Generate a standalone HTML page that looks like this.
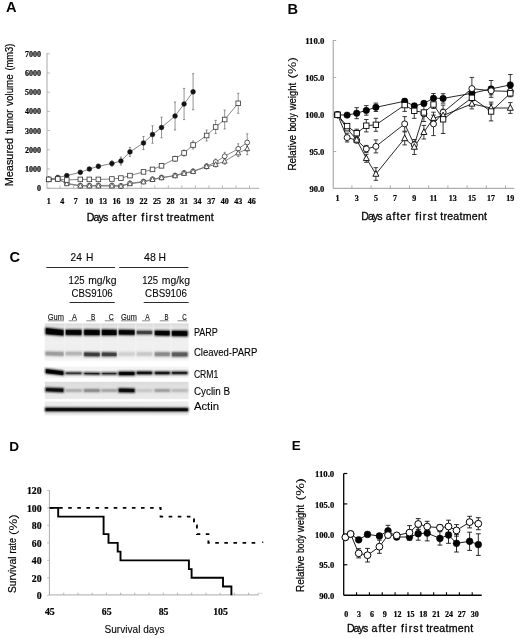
<!DOCTYPE html><html><head><meta charset="utf-8"><style>html,body{margin:0;padding:0;background:#fff;}svg{display:block;}</style></head><body>
<svg width="520" height="638" viewBox="0 0 520 638">
<defs><filter id="b1" x="-20%" y="-150%" width="140%" height="400%"><feGaussianBlur stdDeviation="0.8"/></filter><filter id="b2" x="-20%" y="-50%" width="140%" height="200%"><feGaussianBlur stdDeviation="1.1"/></filter><filter id="b3" x="-5%" y="-20%" width="110%" height="140%"><feGaussianBlur stdDeviation="0.5"/></filter></defs>
<rect width="520" height="638" fill="#fff"/>
<g opacity="0.995">
<text x="6.0" y="12" font-size="14.6" text-anchor="start" font-weight="bold" font-style="normal" font-family='"Liberation Sans", sans-serif' fill="#000">A</text>
<text x="287.6" y="14.1" font-size="14.6" text-anchor="start" font-weight="bold" font-style="normal" font-family='"Liberation Sans", sans-serif' fill="#000">B</text>
<text x="9.6" y="262" font-size="14.6" text-anchor="start" font-weight="bold" font-style="normal" font-family='"Liberation Sans", sans-serif' fill="#000">C</text>
<text x="9.2" y="451.3" font-size="13.6" text-anchor="start" font-weight="bold" font-style="normal" font-family='"Liberation Sans", sans-serif' fill="#000">D</text>
<text x="291.8" y="449.8" font-size="13.4" text-anchor="start" font-weight="bold" font-style="normal" font-family='"Liberation Sans", sans-serif' fill="#000">E</text>
<line x1="47.0" y1="53" x2="47.0" y2="188.3" stroke="#aaa" stroke-width="1"/>
<line x1="47.0" y1="188.3" x2="259.4" y2="188.3" stroke="#aaa" stroke-width="1"/>
<line x1="47.0" y1="188.2" x2="50.0" y2="188.2" stroke="#aaa" stroke-width="0.8"/>
<text x="41" y="191.1" font-size="8" text-anchor="end" font-weight="bold" font-style="normal" font-family='"Liberation Serif", serif' fill="#000" stroke="#000" stroke-width="0.22">0</text>
<line x1="47.0" y1="169.0" x2="50.0" y2="169.0" stroke="#aaa" stroke-width="0.8"/>
<text x="41" y="171.9" font-size="8" text-anchor="end" font-weight="bold" font-style="normal" font-family='"Liberation Serif", serif' fill="#000" stroke="#000" stroke-width="0.22">1000</text>
<line x1="47.0" y1="149.79999999999998" x2="50.0" y2="149.79999999999998" stroke="#aaa" stroke-width="0.8"/>
<text x="41" y="152.7" font-size="8" text-anchor="end" font-weight="bold" font-style="normal" font-family='"Liberation Serif", serif' fill="#000" stroke="#000" stroke-width="0.22">2000</text>
<line x1="47.0" y1="130.6" x2="50.0" y2="130.6" stroke="#aaa" stroke-width="0.8"/>
<text x="41" y="133.5" font-size="8" text-anchor="end" font-weight="bold" font-style="normal" font-family='"Liberation Serif", serif' fill="#000" stroke="#000" stroke-width="0.22">3000</text>
<line x1="47.0" y1="111.39999999999999" x2="50.0" y2="111.39999999999999" stroke="#aaa" stroke-width="0.8"/>
<text x="41" y="114.3" font-size="8" text-anchor="end" font-weight="bold" font-style="normal" font-family='"Liberation Serif", serif' fill="#000" stroke="#000" stroke-width="0.22">4000</text>
<line x1="47.0" y1="92.19999999999999" x2="50.0" y2="92.19999999999999" stroke="#aaa" stroke-width="0.8"/>
<text x="41" y="95.1" font-size="8" text-anchor="end" font-weight="bold" font-style="normal" font-family='"Liberation Serif", serif' fill="#000" stroke="#000" stroke-width="0.22">5000</text>
<line x1="47.0" y1="73.0" x2="50.0" y2="73.0" stroke="#aaa" stroke-width="0.8"/>
<text x="41" y="75.9" font-size="8" text-anchor="end" font-weight="bold" font-style="normal" font-family='"Liberation Serif", serif' fill="#000" stroke="#000" stroke-width="0.22">6000</text>
<line x1="47.0" y1="53.79999999999998" x2="50.0" y2="53.79999999999998" stroke="#aaa" stroke-width="0.8"/>
<text x="41" y="56.69999999999998" font-size="8" text-anchor="end" font-weight="bold" font-style="normal" font-family='"Liberation Serif", serif' fill="#000" stroke="#000" stroke-width="0.22">7000</text>
<text x="48.75" y="203.5" font-size="8" text-anchor="middle" font-weight="bold" font-style="normal" font-family='"Liberation Serif", serif' fill="#000" stroke="#000" stroke-width="0.22">1</text>
<line x1="60.033" y1="188.3" x2="60.033" y2="185.3" stroke="#aaa" stroke-width="0.8"/>
<text x="62.283" y="203.5" font-size="8" text-anchor="middle" font-weight="bold" font-style="normal" font-family='"Liberation Serif", serif' fill="#000" stroke="#000" stroke-width="0.22">4</text>
<line x1="73.566" y1="188.3" x2="73.566" y2="185.3" stroke="#aaa" stroke-width="0.8"/>
<text x="75.816" y="203.5" font-size="8" text-anchor="middle" font-weight="bold" font-style="normal" font-family='"Liberation Serif", serif' fill="#000" stroke="#000" stroke-width="0.22">7</text>
<line x1="87.099" y1="188.3" x2="87.099" y2="185.3" stroke="#aaa" stroke-width="0.8"/>
<text x="89.349" y="203.5" font-size="8" text-anchor="middle" font-weight="bold" font-style="normal" font-family='"Liberation Serif", serif' fill="#000" stroke="#000" stroke-width="0.22">10</text>
<line x1="100.632" y1="188.3" x2="100.632" y2="185.3" stroke="#aaa" stroke-width="0.8"/>
<text x="102.882" y="203.5" font-size="8" text-anchor="middle" font-weight="bold" font-style="normal" font-family='"Liberation Serif", serif' fill="#000" stroke="#000" stroke-width="0.22">13</text>
<line x1="114.165" y1="188.3" x2="114.165" y2="185.3" stroke="#aaa" stroke-width="0.8"/>
<text x="116.415" y="203.5" font-size="8" text-anchor="middle" font-weight="bold" font-style="normal" font-family='"Liberation Serif", serif' fill="#000" stroke="#000" stroke-width="0.22">16</text>
<line x1="127.69800000000001" y1="188.3" x2="127.69800000000001" y2="185.3" stroke="#aaa" stroke-width="0.8"/>
<text x="129.948" y="203.5" font-size="8" text-anchor="middle" font-weight="bold" font-style="normal" font-family='"Liberation Serif", serif' fill="#000" stroke="#000" stroke-width="0.22">19</text>
<line x1="141.231" y1="188.3" x2="141.231" y2="185.3" stroke="#aaa" stroke-width="0.8"/>
<text x="143.481" y="203.5" font-size="8" text-anchor="middle" font-weight="bold" font-style="normal" font-family='"Liberation Serif", serif' fill="#000" stroke="#000" stroke-width="0.22">22</text>
<line x1="154.764" y1="188.3" x2="154.764" y2="185.3" stroke="#aaa" stroke-width="0.8"/>
<text x="157.014" y="203.5" font-size="8" text-anchor="middle" font-weight="bold" font-style="normal" font-family='"Liberation Serif", serif' fill="#000" stroke="#000" stroke-width="0.22">25</text>
<line x1="168.297" y1="188.3" x2="168.297" y2="185.3" stroke="#aaa" stroke-width="0.8"/>
<text x="170.547" y="203.5" font-size="8" text-anchor="middle" font-weight="bold" font-style="normal" font-family='"Liberation Serif", serif' fill="#000" stroke="#000" stroke-width="0.22">28</text>
<line x1="181.83" y1="188.3" x2="181.83" y2="185.3" stroke="#aaa" stroke-width="0.8"/>
<text x="184.08" y="203.5" font-size="8" text-anchor="middle" font-weight="bold" font-style="normal" font-family='"Liberation Serif", serif' fill="#000" stroke="#000" stroke-width="0.22">31</text>
<line x1="195.363" y1="188.3" x2="195.363" y2="185.3" stroke="#aaa" stroke-width="0.8"/>
<text x="197.613" y="203.5" font-size="8" text-anchor="middle" font-weight="bold" font-style="normal" font-family='"Liberation Serif", serif' fill="#000" stroke="#000" stroke-width="0.22">34</text>
<line x1="208.89600000000002" y1="188.3" x2="208.89600000000002" y2="185.3" stroke="#aaa" stroke-width="0.8"/>
<text x="211.14600000000002" y="203.5" font-size="8" text-anchor="middle" font-weight="bold" font-style="normal" font-family='"Liberation Serif", serif' fill="#000" stroke="#000" stroke-width="0.22">37</text>
<line x1="222.429" y1="188.3" x2="222.429" y2="185.3" stroke="#aaa" stroke-width="0.8"/>
<text x="224.679" y="203.5" font-size="8" text-anchor="middle" font-weight="bold" font-style="normal" font-family='"Liberation Serif", serif' fill="#000" stroke="#000" stroke-width="0.22">40</text>
<line x1="235.96200000000002" y1="188.3" x2="235.96200000000002" y2="185.3" stroke="#aaa" stroke-width="0.8"/>
<text x="238.21200000000002" y="203.5" font-size="8" text-anchor="middle" font-weight="bold" font-style="normal" font-family='"Liberation Serif", serif' fill="#000" stroke="#000" stroke-width="0.22">43</text>
<line x1="249.495" y1="188.3" x2="249.495" y2="185.3" stroke="#aaa" stroke-width="0.8"/>
<text x="251.745" y="203.5" font-size="8" text-anchor="middle" font-weight="bold" font-style="normal" font-family='"Liberation Serif", serif' fill="#000" stroke="#000" stroke-width="0.22">46</text>
<text transform="translate(12.9,186.3) rotate(-90)" font-size="10.2" font-weight="normal" font-family='"Liberation Sans", sans-serif' fill="#000" stroke="#000" stroke-width="0.22" textLength="48.5" lengthAdjust="spacingAndGlyphs">Measured</text>
<text transform="translate(12.9,134.1) rotate(-90)" font-size="10.2" font-weight="normal" font-family='"Liberation Sans", sans-serif' fill="#000" stroke="#000" stroke-width="0.22" textLength="24.5" lengthAdjust="spacingAndGlyphs">tumor</text>
<text transform="translate(12.9,105.9) rotate(-90)" font-size="10.2" font-weight="normal" font-family='"Liberation Sans", sans-serif' fill="#000" stroke="#000" stroke-width="0.22" textLength="31.6" lengthAdjust="spacingAndGlyphs">volume</text>
<text transform="translate(12.9,70.6) rotate(-90)" font-size="10.2" font-weight="normal" font-family='"Liberation Sans", sans-serif' fill="#000" stroke="#000" stroke-width="0.22" textLength="27.0" lengthAdjust="spacingAndGlyphs">(mm3)</text>
<text x="86.8" y="221.2" font-size="10.6" text-anchor="start" font-weight="normal" font-style="normal" font-family='"Liberation Sans", sans-serif' fill="#000" stroke="#000" stroke-width="0.3" textLength="21.48" lengthAdjust="spacing">Days</text>
<text x="111.68" y="221.2" font-size="10.6" text-anchor="start" font-weight="normal" font-style="normal" font-family='"Liberation Sans", sans-serif' fill="#000" stroke="#000" stroke-width="0.3" textLength="24.88" lengthAdjust="spacing">after</text>
<text x="141.26" y="221.2" font-size="10.6" text-anchor="start" font-weight="normal" font-style="normal" font-family='"Liberation Sans", sans-serif' fill="#000" stroke="#000" stroke-width="0.3" textLength="21.88" lengthAdjust="spacing">first</text>
<text x="166.54" y="221.2" font-size="10.6" text-anchor="start" font-weight="normal" font-style="normal" font-family='"Liberation Sans", sans-serif' fill="#000" stroke="#000" stroke-width="0.3" textLength="47.26" lengthAdjust="spacing">treatment</text>
<polyline points="48.75,179.40 57.77,177.50 66.79,175.60 80.33,172.30 89.35,169.00 98.37,166.30 111.90,163.50 120.93,161.00 129.95,151.90 143.48,143.00 152.50,134.50 161.53,127.50 175.06,116.00 184.08,104.00 193.10,91.80" fill="none" stroke="#777" stroke-width="0.9"/>
<polyline points="48.75,179.40 57.77,179.00 66.79,180.00 80.33,179.40 89.35,179.40 98.37,179.40 111.90,179.00 120.93,178.10 129.95,175.60 143.48,171.90 152.50,169.40 161.53,165.80 175.06,158.80 184.08,153.00 193.10,145.00 206.63,135.50 215.66,127.00 224.68,119.50 238.21,103.30" fill="none" stroke="#777" stroke-width="0.9"/>
<polyline points="48.75,179.40 57.77,179.00 66.79,183.30 80.33,185.60 89.35,185.60 98.37,185.40 111.90,185.40 120.93,185.80 129.95,183.30 143.48,181.50 152.50,179.20 161.53,177.50 175.06,175.50 184.08,173.00 193.10,171.30 206.63,166.30 215.66,162.00 224.68,156.30 238.21,148.80 247.23,142.50" fill="none" stroke="#777" stroke-width="0.9"/>
<polyline points="48.75,179.40 57.77,179.00 66.79,183.80 80.33,186.00 89.35,186.00 98.37,186.00 111.90,186.00 120.93,186.20 129.95,183.80 143.48,182.00 152.50,179.60 161.53,177.80 175.06,175.80 184.08,173.50 193.10,171.60 206.63,166.60 215.66,164.50 224.68,161.30 238.21,153.00 247.23,148.80" fill="none" stroke="#777" stroke-width="0.9"/>
<line x1="89.349" y1="169" x2="89.349" y2="167.5" stroke="#666" stroke-width="0.7"/>
<line x1="88.24900000000001" y1="167.5" x2="90.449" y2="167.5" stroke="#666" stroke-width="0.7"/>
<line x1="89.349" y1="169" x2="89.349" y2="170.5" stroke="#666" stroke-width="0.7"/>
<line x1="88.24900000000001" y1="170.5" x2="90.449" y2="170.5" stroke="#666" stroke-width="0.7"/>
<line x1="98.37100000000001" y1="166.3" x2="98.37100000000001" y2="164.3" stroke="#666" stroke-width="0.7"/>
<line x1="97.27100000000002" y1="164.3" x2="99.471" y2="164.3" stroke="#666" stroke-width="0.7"/>
<line x1="98.37100000000001" y1="166.3" x2="98.37100000000001" y2="168.3" stroke="#666" stroke-width="0.7"/>
<line x1="97.27100000000002" y1="168.3" x2="99.471" y2="168.3" stroke="#666" stroke-width="0.7"/>
<line x1="111.904" y1="163.5" x2="111.904" y2="160.9" stroke="#666" stroke-width="0.7"/>
<line x1="110.804" y1="160.9" x2="113.00399999999999" y2="160.9" stroke="#666" stroke-width="0.7"/>
<line x1="111.904" y1="163.5" x2="111.904" y2="166.1" stroke="#666" stroke-width="0.7"/>
<line x1="110.804" y1="166.1" x2="113.00399999999999" y2="166.1" stroke="#666" stroke-width="0.7"/>
<line x1="120.926" y1="161" x2="120.926" y2="157" stroke="#666" stroke-width="0.7"/>
<line x1="119.82600000000001" y1="157" x2="122.026" y2="157" stroke="#666" stroke-width="0.7"/>
<line x1="120.926" y1="161" x2="120.926" y2="165" stroke="#666" stroke-width="0.7"/>
<line x1="119.82600000000001" y1="165" x2="122.026" y2="165" stroke="#666" stroke-width="0.7"/>
<line x1="129.948" y1="151.9" x2="129.948" y2="147.4" stroke="#666" stroke-width="0.7"/>
<line x1="128.848" y1="147.4" x2="131.048" y2="147.4" stroke="#666" stroke-width="0.7"/>
<line x1="129.948" y1="151.9" x2="129.948" y2="156.4" stroke="#666" stroke-width="0.7"/>
<line x1="128.848" y1="156.4" x2="131.048" y2="156.4" stroke="#666" stroke-width="0.7"/>
<line x1="143.481" y1="143" x2="143.481" y2="136.5" stroke="#666" stroke-width="0.7"/>
<line x1="142.381" y1="136.5" x2="144.581" y2="136.5" stroke="#666" stroke-width="0.7"/>
<line x1="143.481" y1="143" x2="143.481" y2="149.5" stroke="#666" stroke-width="0.7"/>
<line x1="142.381" y1="149.5" x2="144.581" y2="149.5" stroke="#666" stroke-width="0.7"/>
<line x1="152.503" y1="134.5" x2="152.503" y2="125.8" stroke="#666" stroke-width="0.7"/>
<line x1="151.403" y1="125.8" x2="153.60299999999998" y2="125.8" stroke="#666" stroke-width="0.7"/>
<line x1="152.503" y1="134.5" x2="152.503" y2="143.2" stroke="#666" stroke-width="0.7"/>
<line x1="151.403" y1="143.2" x2="153.60299999999998" y2="143.2" stroke="#666" stroke-width="0.7"/>
<line x1="161.525" y1="127.5" x2="161.525" y2="117.2" stroke="#666" stroke-width="0.7"/>
<line x1="160.425" y1="117.2" x2="162.625" y2="117.2" stroke="#666" stroke-width="0.7"/>
<line x1="161.525" y1="127.5" x2="161.525" y2="137.8" stroke="#666" stroke-width="0.7"/>
<line x1="160.425" y1="137.8" x2="162.625" y2="137.8" stroke="#666" stroke-width="0.7"/>
<line x1="175.058" y1="116" x2="175.058" y2="102" stroke="#666" stroke-width="0.7"/>
<line x1="173.958" y1="102" x2="176.158" y2="102" stroke="#666" stroke-width="0.7"/>
<line x1="175.058" y1="116" x2="175.058" y2="130" stroke="#666" stroke-width="0.7"/>
<line x1="173.958" y1="130" x2="176.158" y2="130" stroke="#666" stroke-width="0.7"/>
<line x1="184.08" y1="104" x2="184.08" y2="88.4" stroke="#666" stroke-width="0.7"/>
<line x1="182.98000000000002" y1="88.4" x2="185.18" y2="88.4" stroke="#666" stroke-width="0.7"/>
<line x1="184.08" y1="104" x2="184.08" y2="119.6" stroke="#666" stroke-width="0.7"/>
<line x1="182.98000000000002" y1="119.6" x2="185.18" y2="119.6" stroke="#666" stroke-width="0.7"/>
<line x1="193.102" y1="91.8" x2="193.102" y2="73.8" stroke="#666" stroke-width="0.7"/>
<line x1="192.002" y1="73.8" x2="194.202" y2="73.8" stroke="#666" stroke-width="0.7"/>
<line x1="193.102" y1="91.8" x2="193.102" y2="109.8" stroke="#666" stroke-width="0.7"/>
<line x1="192.002" y1="109.8" x2="194.202" y2="109.8" stroke="#666" stroke-width="0.7"/>
<line x1="143.481" y1="171.9" x2="143.481" y2="170.4" stroke="#666" stroke-width="0.7"/>
<line x1="142.381" y1="170.4" x2="144.581" y2="170.4" stroke="#666" stroke-width="0.7"/>
<line x1="143.481" y1="171.9" x2="143.481" y2="173.4" stroke="#666" stroke-width="0.7"/>
<line x1="142.381" y1="173.4" x2="144.581" y2="173.4" stroke="#666" stroke-width="0.7"/>
<line x1="152.503" y1="169.4" x2="152.503" y2="167.9" stroke="#666" stroke-width="0.7"/>
<line x1="151.403" y1="167.9" x2="153.60299999999998" y2="167.9" stroke="#666" stroke-width="0.7"/>
<line x1="152.503" y1="169.4" x2="152.503" y2="170.9" stroke="#666" stroke-width="0.7"/>
<line x1="151.403" y1="170.9" x2="153.60299999999998" y2="170.9" stroke="#666" stroke-width="0.7"/>
<line x1="161.525" y1="165.8" x2="161.525" y2="163.8" stroke="#666" stroke-width="0.7"/>
<line x1="160.425" y1="163.8" x2="162.625" y2="163.8" stroke="#666" stroke-width="0.7"/>
<line x1="161.525" y1="165.8" x2="161.525" y2="167.8" stroke="#666" stroke-width="0.7"/>
<line x1="160.425" y1="167.8" x2="162.625" y2="167.8" stroke="#666" stroke-width="0.7"/>
<line x1="175.058" y1="158.8" x2="175.058" y2="156.3" stroke="#666" stroke-width="0.7"/>
<line x1="173.958" y1="156.3" x2="176.158" y2="156.3" stroke="#666" stroke-width="0.7"/>
<line x1="175.058" y1="158.8" x2="175.058" y2="161.3" stroke="#666" stroke-width="0.7"/>
<line x1="173.958" y1="161.3" x2="176.158" y2="161.3" stroke="#666" stroke-width="0.7"/>
<line x1="184.08" y1="153" x2="184.08" y2="150" stroke="#666" stroke-width="0.7"/>
<line x1="182.98000000000002" y1="150" x2="185.18" y2="150" stroke="#666" stroke-width="0.7"/>
<line x1="184.08" y1="153" x2="184.08" y2="156" stroke="#666" stroke-width="0.7"/>
<line x1="182.98000000000002" y1="156" x2="185.18" y2="156" stroke="#666" stroke-width="0.7"/>
<line x1="193.102" y1="145" x2="193.102" y2="141" stroke="#666" stroke-width="0.7"/>
<line x1="192.002" y1="141" x2="194.202" y2="141" stroke="#666" stroke-width="0.7"/>
<line x1="193.102" y1="145" x2="193.102" y2="149" stroke="#666" stroke-width="0.7"/>
<line x1="192.002" y1="149" x2="194.202" y2="149" stroke="#666" stroke-width="0.7"/>
<line x1="206.635" y1="135.5" x2="206.635" y2="130.0" stroke="#666" stroke-width="0.7"/>
<line x1="205.535" y1="130.0" x2="207.73499999999999" y2="130.0" stroke="#666" stroke-width="0.7"/>
<line x1="206.635" y1="135.5" x2="206.635" y2="141.0" stroke="#666" stroke-width="0.7"/>
<line x1="205.535" y1="141.0" x2="207.73499999999999" y2="141.0" stroke="#666" stroke-width="0.7"/>
<line x1="215.657" y1="127" x2="215.657" y2="120.4" stroke="#666" stroke-width="0.7"/>
<line x1="214.55700000000002" y1="120.4" x2="216.757" y2="120.4" stroke="#666" stroke-width="0.7"/>
<line x1="215.657" y1="127" x2="215.657" y2="133.6" stroke="#666" stroke-width="0.7"/>
<line x1="214.55700000000002" y1="133.6" x2="216.757" y2="133.6" stroke="#666" stroke-width="0.7"/>
<line x1="224.679" y1="119.5" x2="224.679" y2="110.0" stroke="#666" stroke-width="0.7"/>
<line x1="223.579" y1="110.0" x2="225.779" y2="110.0" stroke="#666" stroke-width="0.7"/>
<line x1="224.679" y1="119.5" x2="224.679" y2="129.0" stroke="#666" stroke-width="0.7"/>
<line x1="223.579" y1="129.0" x2="225.779" y2="129.0" stroke="#666" stroke-width="0.7"/>
<line x1="238.21200000000002" y1="103.3" x2="238.21200000000002" y2="93.3" stroke="#666" stroke-width="0.7"/>
<line x1="237.11200000000002" y1="93.3" x2="239.312" y2="93.3" stroke="#666" stroke-width="0.7"/>
<line x1="238.21200000000002" y1="103.3" x2="238.21200000000002" y2="113.3" stroke="#666" stroke-width="0.7"/>
<line x1="237.11200000000002" y1="113.3" x2="239.312" y2="113.3" stroke="#666" stroke-width="0.7"/>
<line x1="152.503" y1="179.2" x2="152.503" y2="178.2" stroke="#666" stroke-width="0.7"/>
<line x1="151.403" y1="178.2" x2="153.60299999999998" y2="178.2" stroke="#666" stroke-width="0.7"/>
<line x1="152.503" y1="179.2" x2="152.503" y2="180.2" stroke="#666" stroke-width="0.7"/>
<line x1="151.403" y1="180.2" x2="153.60299999999998" y2="180.2" stroke="#666" stroke-width="0.7"/>
<line x1="161.525" y1="177.5" x2="161.525" y2="176.5" stroke="#666" stroke-width="0.7"/>
<line x1="160.425" y1="176.5" x2="162.625" y2="176.5" stroke="#666" stroke-width="0.7"/>
<line x1="161.525" y1="177.5" x2="161.525" y2="178.5" stroke="#666" stroke-width="0.7"/>
<line x1="160.425" y1="178.5" x2="162.625" y2="178.5" stroke="#666" stroke-width="0.7"/>
<line x1="175.058" y1="175.5" x2="175.058" y2="174.0" stroke="#666" stroke-width="0.7"/>
<line x1="173.958" y1="174.0" x2="176.158" y2="174.0" stroke="#666" stroke-width="0.7"/>
<line x1="175.058" y1="175.5" x2="175.058" y2="177.0" stroke="#666" stroke-width="0.7"/>
<line x1="173.958" y1="177.0" x2="176.158" y2="177.0" stroke="#666" stroke-width="0.7"/>
<line x1="184.08" y1="173" x2="184.08" y2="171" stroke="#666" stroke-width="0.7"/>
<line x1="182.98000000000002" y1="171" x2="185.18" y2="171" stroke="#666" stroke-width="0.7"/>
<line x1="184.08" y1="173" x2="184.08" y2="175" stroke="#666" stroke-width="0.7"/>
<line x1="182.98000000000002" y1="175" x2="185.18" y2="175" stroke="#666" stroke-width="0.7"/>
<line x1="193.102" y1="171.3" x2="193.102" y2="169.3" stroke="#666" stroke-width="0.7"/>
<line x1="192.002" y1="169.3" x2="194.202" y2="169.3" stroke="#666" stroke-width="0.7"/>
<line x1="193.102" y1="171.3" x2="193.102" y2="173.3" stroke="#666" stroke-width="0.7"/>
<line x1="192.002" y1="173.3" x2="194.202" y2="173.3" stroke="#666" stroke-width="0.7"/>
<line x1="206.635" y1="166.3" x2="206.635" y2="163.8" stroke="#666" stroke-width="0.7"/>
<line x1="205.535" y1="163.8" x2="207.73499999999999" y2="163.8" stroke="#666" stroke-width="0.7"/>
<line x1="206.635" y1="166.3" x2="206.635" y2="168.8" stroke="#666" stroke-width="0.7"/>
<line x1="205.535" y1="168.8" x2="207.73499999999999" y2="168.8" stroke="#666" stroke-width="0.7"/>
<line x1="215.657" y1="162" x2="215.657" y2="159" stroke="#666" stroke-width="0.7"/>
<line x1="214.55700000000002" y1="159" x2="216.757" y2="159" stroke="#666" stroke-width="0.7"/>
<line x1="215.657" y1="162" x2="215.657" y2="165" stroke="#666" stroke-width="0.7"/>
<line x1="214.55700000000002" y1="165" x2="216.757" y2="165" stroke="#666" stroke-width="0.7"/>
<line x1="224.679" y1="156.3" x2="224.679" y2="152.3" stroke="#666" stroke-width="0.7"/>
<line x1="223.579" y1="152.3" x2="225.779" y2="152.3" stroke="#666" stroke-width="0.7"/>
<line x1="224.679" y1="156.3" x2="224.679" y2="160.3" stroke="#666" stroke-width="0.7"/>
<line x1="223.579" y1="160.3" x2="225.779" y2="160.3" stroke="#666" stroke-width="0.7"/>
<line x1="238.21200000000002" y1="148.8" x2="238.21200000000002" y2="143.8" stroke="#666" stroke-width="0.7"/>
<line x1="237.11200000000002" y1="143.8" x2="239.312" y2="143.8" stroke="#666" stroke-width="0.7"/>
<line x1="238.21200000000002" y1="148.8" x2="238.21200000000002" y2="153.8" stroke="#666" stroke-width="0.7"/>
<line x1="237.11200000000002" y1="153.8" x2="239.312" y2="153.8" stroke="#666" stroke-width="0.7"/>
<line x1="247.234" y1="142.5" x2="247.234" y2="133.8" stroke="#666" stroke-width="0.7"/>
<line x1="246.13400000000001" y1="133.8" x2="248.334" y2="133.8" stroke="#666" stroke-width="0.7"/>
<line x1="247.234" y1="142.5" x2="247.234" y2="151.2" stroke="#666" stroke-width="0.7"/>
<line x1="246.13400000000001" y1="151.2" x2="248.334" y2="151.2" stroke="#666" stroke-width="0.7"/>
<line x1="206.635" y1="166.6" x2="206.635" y2="164.6" stroke="#666" stroke-width="0.7"/>
<line x1="205.535" y1="164.6" x2="207.73499999999999" y2="164.6" stroke="#666" stroke-width="0.7"/>
<line x1="206.635" y1="166.6" x2="206.635" y2="168.6" stroke="#666" stroke-width="0.7"/>
<line x1="205.535" y1="168.6" x2="207.73499999999999" y2="168.6" stroke="#666" stroke-width="0.7"/>
<line x1="215.657" y1="164.5" x2="215.657" y2="162.0" stroke="#666" stroke-width="0.7"/>
<line x1="214.55700000000002" y1="162.0" x2="216.757" y2="162.0" stroke="#666" stroke-width="0.7"/>
<line x1="215.657" y1="164.5" x2="215.657" y2="167.0" stroke="#666" stroke-width="0.7"/>
<line x1="214.55700000000002" y1="167.0" x2="216.757" y2="167.0" stroke="#666" stroke-width="0.7"/>
<line x1="224.679" y1="161.3" x2="224.679" y2="158.3" stroke="#666" stroke-width="0.7"/>
<line x1="223.579" y1="158.3" x2="225.779" y2="158.3" stroke="#666" stroke-width="0.7"/>
<line x1="224.679" y1="161.3" x2="224.679" y2="164.3" stroke="#666" stroke-width="0.7"/>
<line x1="223.579" y1="164.3" x2="225.779" y2="164.3" stroke="#666" stroke-width="0.7"/>
<line x1="238.21200000000002" y1="153" x2="238.21200000000002" y2="149.5" stroke="#666" stroke-width="0.7"/>
<line x1="237.11200000000002" y1="149.5" x2="239.312" y2="149.5" stroke="#666" stroke-width="0.7"/>
<line x1="238.21200000000002" y1="153" x2="238.21200000000002" y2="156.5" stroke="#666" stroke-width="0.7"/>
<line x1="237.11200000000002" y1="156.5" x2="239.312" y2="156.5" stroke="#666" stroke-width="0.7"/>
<line x1="247.234" y1="148.8" x2="247.234" y2="142.8" stroke="#666" stroke-width="0.7"/>
<line x1="246.13400000000001" y1="142.8" x2="248.334" y2="142.8" stroke="#666" stroke-width="0.7"/>
<line x1="247.234" y1="148.8" x2="247.234" y2="154.8" stroke="#666" stroke-width="0.7"/>
<line x1="246.13400000000001" y1="154.8" x2="248.334" y2="154.8" stroke="#666" stroke-width="0.7"/>
<circle cx="48.75" cy="179.40" r="2.35" fill="#111" stroke="#111" stroke-width="0.6"/>
<circle cx="57.77" cy="177.50" r="2.35" fill="#111" stroke="#111" stroke-width="0.6"/>
<circle cx="66.79" cy="175.60" r="2.35" fill="#111" stroke="#111" stroke-width="0.6"/>
<circle cx="80.33" cy="172.30" r="2.35" fill="#111" stroke="#111" stroke-width="0.6"/>
<circle cx="89.35" cy="169.00" r="2.35" fill="#111" stroke="#111" stroke-width="0.6"/>
<circle cx="98.37" cy="166.30" r="2.35" fill="#111" stroke="#111" stroke-width="0.6"/>
<circle cx="111.90" cy="163.50" r="2.35" fill="#111" stroke="#111" stroke-width="0.6"/>
<circle cx="120.93" cy="161.00" r="2.35" fill="#111" stroke="#111" stroke-width="0.6"/>
<circle cx="129.95" cy="151.90" r="2.35" fill="#111" stroke="#111" stroke-width="0.6"/>
<circle cx="143.48" cy="143.00" r="2.35" fill="#111" stroke="#111" stroke-width="0.6"/>
<circle cx="152.50" cy="134.50" r="2.35" fill="#111" stroke="#111" stroke-width="0.6"/>
<circle cx="161.53" cy="127.50" r="2.35" fill="#111" stroke="#111" stroke-width="0.6"/>
<circle cx="175.06" cy="116.00" r="2.35" fill="#111" stroke="#111" stroke-width="0.6"/>
<circle cx="184.08" cy="104.00" r="2.35" fill="#111" stroke="#111" stroke-width="0.6"/>
<circle cx="193.10" cy="91.80" r="2.35" fill="#111" stroke="#111" stroke-width="0.6"/>
<circle cx="48.75" cy="179.40" r="2.40" fill="#fff" stroke="#333" stroke-width="0.8"/>
<circle cx="57.77" cy="179.00" r="2.40" fill="#fff" stroke="#333" stroke-width="0.8"/>
<circle cx="66.79" cy="183.30" r="2.40" fill="#fff" stroke="#333" stroke-width="0.8"/>
<circle cx="80.33" cy="185.60" r="2.40" fill="#fff" stroke="#333" stroke-width="0.8"/>
<circle cx="89.35" cy="185.60" r="2.40" fill="#fff" stroke="#333" stroke-width="0.8"/>
<circle cx="98.37" cy="185.40" r="2.40" fill="#fff" stroke="#333" stroke-width="0.8"/>
<circle cx="111.90" cy="185.40" r="2.40" fill="#fff" stroke="#333" stroke-width="0.8"/>
<circle cx="120.93" cy="185.80" r="2.40" fill="#fff" stroke="#333" stroke-width="0.8"/>
<circle cx="129.95" cy="183.30" r="2.40" fill="#fff" stroke="#333" stroke-width="0.8"/>
<circle cx="143.48" cy="181.50" r="2.40" fill="#fff" stroke="#333" stroke-width="0.8"/>
<circle cx="152.50" cy="179.20" r="2.40" fill="#fff" stroke="#333" stroke-width="0.8"/>
<circle cx="161.53" cy="177.50" r="2.40" fill="#fff" stroke="#333" stroke-width="0.8"/>
<circle cx="175.06" cy="175.50" r="2.40" fill="#fff" stroke="#333" stroke-width="0.8"/>
<circle cx="184.08" cy="173.00" r="2.40" fill="#fff" stroke="#333" stroke-width="0.8"/>
<circle cx="193.10" cy="171.30" r="2.40" fill="#fff" stroke="#333" stroke-width="0.8"/>
<circle cx="206.63" cy="166.30" r="2.40" fill="#fff" stroke="#333" stroke-width="0.8"/>
<circle cx="215.66" cy="162.00" r="2.40" fill="#fff" stroke="#333" stroke-width="0.8"/>
<circle cx="224.68" cy="156.30" r="2.40" fill="#fff" stroke="#333" stroke-width="0.8"/>
<circle cx="238.21" cy="148.80" r="2.40" fill="#fff" stroke="#333" stroke-width="0.8"/>
<circle cx="247.23" cy="142.50" r="2.40" fill="#fff" stroke="#333" stroke-width="0.8"/>
<polygon points="48.75,176.55 51.25,181.30 46.25,181.30" fill="#fff" stroke="#333" stroke-width="0.8"/>
<polygon points="57.77,176.15 60.27,180.90 55.27,180.90" fill="#fff" stroke="#333" stroke-width="0.8"/>
<polygon points="66.79,180.95 69.29,185.70 64.29,185.70" fill="#fff" stroke="#333" stroke-width="0.8"/>
<polygon points="80.33,183.15 82.83,187.90 77.83,187.90" fill="#fff" stroke="#333" stroke-width="0.8"/>
<polygon points="89.35,183.15 91.85,187.90 86.85,187.90" fill="#fff" stroke="#333" stroke-width="0.8"/>
<polygon points="98.37,183.15 100.87,187.90 95.87,187.90" fill="#fff" stroke="#333" stroke-width="0.8"/>
<polygon points="111.90,183.15 114.40,187.90 109.40,187.90" fill="#fff" stroke="#333" stroke-width="0.8"/>
<polygon points="120.93,183.35 123.43,188.10 118.43,188.10" fill="#fff" stroke="#333" stroke-width="0.8"/>
<polygon points="129.95,180.95 132.45,185.70 127.45,185.70" fill="#fff" stroke="#333" stroke-width="0.8"/>
<polygon points="143.48,179.15 145.98,183.90 140.98,183.90" fill="#fff" stroke="#333" stroke-width="0.8"/>
<polygon points="152.50,176.75 155.00,181.50 150.00,181.50" fill="#fff" stroke="#333" stroke-width="0.8"/>
<polygon points="161.53,174.95 164.03,179.70 159.03,179.70" fill="#fff" stroke="#333" stroke-width="0.8"/>
<polygon points="175.06,172.95 177.56,177.70 172.56,177.70" fill="#fff" stroke="#333" stroke-width="0.8"/>
<polygon points="184.08,170.65 186.58,175.40 181.58,175.40" fill="#fff" stroke="#333" stroke-width="0.8"/>
<polygon points="193.10,168.75 195.60,173.50 190.60,173.50" fill="#fff" stroke="#333" stroke-width="0.8"/>
<polygon points="206.63,163.75 209.13,168.50 204.13,168.50" fill="#fff" stroke="#333" stroke-width="0.8"/>
<polygon points="215.66,161.65 218.16,166.40 213.16,166.40" fill="#fff" stroke="#333" stroke-width="0.8"/>
<polygon points="224.68,158.45 227.18,163.20 222.18,163.20" fill="#fff" stroke="#333" stroke-width="0.8"/>
<polygon points="238.21,150.15 240.71,154.90 235.71,154.90" fill="#fff" stroke="#333" stroke-width="0.8"/>
<polygon points="247.23,145.95 249.73,150.70 244.73,150.70" fill="#fff" stroke="#333" stroke-width="0.8"/>
<rect x="46.45" y="177.10" width="4.60" height="4.60" fill="#fff" stroke="#333" stroke-width="0.8"/>
<rect x="55.47" y="176.70" width="4.60" height="4.60" fill="#fff" stroke="#333" stroke-width="0.8"/>
<rect x="64.49" y="177.70" width="4.60" height="4.60" fill="#fff" stroke="#333" stroke-width="0.8"/>
<rect x="78.03" y="177.10" width="4.60" height="4.60" fill="#fff" stroke="#333" stroke-width="0.8"/>
<rect x="87.05" y="177.10" width="4.60" height="4.60" fill="#fff" stroke="#333" stroke-width="0.8"/>
<rect x="96.07" y="177.10" width="4.60" height="4.60" fill="#fff" stroke="#333" stroke-width="0.8"/>
<rect x="109.60" y="176.70" width="4.60" height="4.60" fill="#fff" stroke="#333" stroke-width="0.8"/>
<rect x="118.63" y="175.80" width="4.60" height="4.60" fill="#fff" stroke="#333" stroke-width="0.8"/>
<rect x="127.65" y="173.30" width="4.60" height="4.60" fill="#fff" stroke="#333" stroke-width="0.8"/>
<rect x="141.18" y="169.60" width="4.60" height="4.60" fill="#fff" stroke="#333" stroke-width="0.8"/>
<rect x="150.20" y="167.10" width="4.60" height="4.60" fill="#fff" stroke="#333" stroke-width="0.8"/>
<rect x="159.22" y="163.50" width="4.60" height="4.60" fill="#fff" stroke="#333" stroke-width="0.8"/>
<rect x="172.76" y="156.50" width="4.60" height="4.60" fill="#fff" stroke="#333" stroke-width="0.8"/>
<rect x="181.78" y="150.70" width="4.60" height="4.60" fill="#fff" stroke="#333" stroke-width="0.8"/>
<rect x="190.80" y="142.70" width="4.60" height="4.60" fill="#fff" stroke="#333" stroke-width="0.8"/>
<rect x="204.33" y="133.20" width="4.60" height="4.60" fill="#fff" stroke="#333" stroke-width="0.8"/>
<rect x="213.36" y="124.70" width="4.60" height="4.60" fill="#fff" stroke="#333" stroke-width="0.8"/>
<rect x="222.38" y="117.20" width="4.60" height="4.60" fill="#fff" stroke="#333" stroke-width="0.8"/>
<rect x="235.91" y="101.00" width="4.60" height="4.60" fill="#fff" stroke="#333" stroke-width="0.8"/>
<line x1="333.2" y1="40.1" x2="333.2" y2="188.3" stroke="#999" stroke-width="1"/>
<line x1="333.2" y1="188.3" x2="514.3" y2="188.3" stroke="#999" stroke-width="1"/>
<line x1="333.2" y1="40.5" x2="336.2" y2="40.5" stroke="#999" stroke-width="0.8"/>
<text x="324.4" y="44.1" font-size="8.2" text-anchor="end" font-weight="bold" font-style="normal" font-family='"Liberation Serif", serif' fill="#000" stroke="#000" stroke-width="0.22" textLength="19.2" lengthAdjust="spacingAndGlyphs">110.0</text>
<line x1="333.2" y1="77.5" x2="336.2" y2="77.5" stroke="#999" stroke-width="0.8"/>
<text x="324.4" y="81.1" font-size="8.2" text-anchor="end" font-weight="bold" font-style="normal" font-family='"Liberation Serif", serif' fill="#000" stroke="#000" stroke-width="0.22" textLength="19.2" lengthAdjust="spacingAndGlyphs">105.0</text>
<line x1="333.2" y1="114.5" x2="336.2" y2="114.5" stroke="#999" stroke-width="0.8"/>
<text x="324.4" y="118.1" font-size="8.2" text-anchor="end" font-weight="bold" font-style="normal" font-family='"Liberation Serif", serif' fill="#000" stroke="#000" stroke-width="0.22" textLength="19.2" lengthAdjust="spacingAndGlyphs">100.0</text>
<line x1="333.2" y1="151.5" x2="336.2" y2="151.5" stroke="#999" stroke-width="0.8"/>
<text x="324.4" y="155.1" font-size="8.2" text-anchor="end" font-weight="bold" font-style="normal" font-family='"Liberation Serif", serif' fill="#000" stroke="#000" stroke-width="0.22" textLength="15" lengthAdjust="spacingAndGlyphs">95.0</text>
<text x="324.4" y="192.1" font-size="8.2" text-anchor="end" font-weight="bold" font-style="normal" font-family='"Liberation Serif", serif' fill="#000" stroke="#000" stroke-width="0.22" textLength="15" lengthAdjust="spacingAndGlyphs">90.0</text>
<text x="337.5" y="200.5" font-size="8" text-anchor="middle" font-weight="bold" font-style="normal" font-family='"Liberation Serif", serif' fill="#000" stroke="#000" stroke-width="0.22">1</text>
<text x="356.7" y="200.5" font-size="8" text-anchor="middle" font-weight="bold" font-style="normal" font-family='"Liberation Serif", serif' fill="#000" stroke="#000" stroke-width="0.22">3</text>
<text x="375.9" y="200.5" font-size="8" text-anchor="middle" font-weight="bold" font-style="normal" font-family='"Liberation Serif", serif' fill="#000" stroke="#000" stroke-width="0.22">5</text>
<text x="395.1" y="200.5" font-size="8" text-anchor="middle" font-weight="bold" font-style="normal" font-family='"Liberation Serif", serif' fill="#000" stroke="#000" stroke-width="0.22">7</text>
<text x="414.3" y="200.5" font-size="8" text-anchor="middle" font-weight="bold" font-style="normal" font-family='"Liberation Serif", serif' fill="#000" stroke="#000" stroke-width="0.22">9</text>
<text x="433.5" y="200.5" font-size="8" text-anchor="middle" font-weight="bold" font-style="normal" font-family='"Liberation Serif", serif' fill="#000" stroke="#000" stroke-width="0.22">11</text>
<text x="452.7" y="200.5" font-size="8" text-anchor="middle" font-weight="bold" font-style="normal" font-family='"Liberation Serif", serif' fill="#000" stroke="#000" stroke-width="0.22">13</text>
<text x="471.9" y="200.5" font-size="8" text-anchor="middle" font-weight="bold" font-style="normal" font-family='"Liberation Serif", serif' fill="#000" stroke="#000" stroke-width="0.22">15</text>
<text x="491.1" y="200.5" font-size="8" text-anchor="middle" font-weight="bold" font-style="normal" font-family='"Liberation Serif", serif' fill="#000" stroke="#000" stroke-width="0.22">17</text>
<text x="510.29999999999995" y="200.5" font-size="8" text-anchor="middle" font-weight="bold" font-style="normal" font-family='"Liberation Serif", serif' fill="#000" stroke="#000" stroke-width="0.22">19</text>
<line x1="351.9" y1="188.3" x2="351.9" y2="185.3" stroke="#999" stroke-width="0.8"/>
<line x1="371.1" y1="188.3" x2="371.1" y2="185.3" stroke="#999" stroke-width="0.8"/>
<line x1="390.3" y1="188.3" x2="390.3" y2="185.3" stroke="#999" stroke-width="0.8"/>
<line x1="409.5" y1="188.3" x2="409.5" y2="185.3" stroke="#999" stroke-width="0.8"/>
<line x1="428.7" y1="188.3" x2="428.7" y2="185.3" stroke="#999" stroke-width="0.8"/>
<line x1="447.9" y1="188.3" x2="447.9" y2="185.3" stroke="#999" stroke-width="0.8"/>
<line x1="467.1" y1="188.3" x2="467.1" y2="185.3" stroke="#999" stroke-width="0.8"/>
<line x1="486.29999999999995" y1="188.3" x2="486.29999999999995" y2="185.3" stroke="#999" stroke-width="0.8"/>
<line x1="505.5" y1="188.3" x2="505.5" y2="185.3" stroke="#999" stroke-width="0.8"/>
<text transform="translate(295.8,170.6) rotate(-90)" font-size="10.3" font-weight="normal" font-family='"Liberation Sans", sans-serif' fill="#000" stroke="#000" stroke-width="0.22" textLength="35.7" lengthAdjust="spacingAndGlyphs">Relative</text>
<text transform="translate(295.8,131.6) rotate(-90)" font-size="10.3" font-weight="normal" font-family='"Liberation Sans", sans-serif' fill="#000" stroke="#000" stroke-width="0.22" textLength="18.3" lengthAdjust="spacingAndGlyphs">body</text>
<text transform="translate(295.8,110.2) rotate(-90)" font-size="10.3" font-weight="normal" font-family='"Liberation Sans", sans-serif' fill="#000" stroke="#000" stroke-width="0.22" textLength="27.3" lengthAdjust="spacingAndGlyphs">weight</text>
<text transform="translate(296.2,78.6) rotate(-90)" font-size="11.536000000000001" font-weight="normal" font-family='"Liberation Sans", sans-serif' fill="#000" stroke="#000" stroke-width="0.05" textLength="21.4" lengthAdjust="spacingAndGlyphs">(%)</text>
<text x="361.2" y="219.8" font-size="10.6" text-anchor="start" font-weight="normal" font-style="normal" font-family='"Liberation Sans", sans-serif' fill="#000" stroke="#000" stroke-width="0.3" textLength="21.28" lengthAdjust="spacing">Days</text>
<text x="385.85" y="219.8" font-size="10.6" text-anchor="start" font-weight="normal" font-style="normal" font-family='"Liberation Sans", sans-serif' fill="#000" stroke="#000" stroke-width="0.3" textLength="24.65" lengthAdjust="spacing">after</text>
<text x="415.14" y="219.8" font-size="10.6" text-anchor="start" font-weight="normal" font-style="normal" font-family='"Liberation Sans", sans-serif' fill="#000" stroke="#000" stroke-width="0.3" textLength="21.68" lengthAdjust="spacing">first</text>
<text x="440.18" y="219.8" font-size="10.6" text-anchor="start" font-weight="normal" font-style="normal" font-family='"Liberation Sans", sans-serif' fill="#000" stroke="#000" stroke-width="0.3" textLength="46.82" lengthAdjust="spacing">treatment</text>
<polyline points="337.50,114.80 347.10,115.10 356.70,113.20 366.30,110.40 375.90,107.30 404.70,101.20 414.30,106.00 423.90,103.40 433.50,98.20 443.10,98.40 471.90,93.30 491.10,88.90 510.30,84.90" fill="none" stroke="#111" stroke-width="0.9"/>
<polyline points="337.50,114.80 347.10,126.10 356.70,133.20 366.30,125.70 375.90,124.80 404.70,105.10 414.30,110.80 423.90,112.50 433.50,104.50 443.10,119.30 471.90,97.80 491.10,111.50 510.30,93.30" fill="none" stroke="#111" stroke-width="0.9"/>
<polyline points="337.50,114.80 347.10,137.60 356.70,140.20 366.30,148.90 375.90,146.40 404.70,123.90 414.30,144.80 423.90,113.80 433.50,123.90 443.10,112.30 471.90,88.60 491.10,90.80 510.30,91.40" fill="none" stroke="#111" stroke-width="0.9"/>
<polyline points="337.50,114.80 347.10,128.60 356.70,139.90 366.30,158.30 375.90,174.00 404.70,138.40 414.30,147.00 423.90,132.20 433.50,118.10 443.10,115.50 471.90,103.90 491.10,108.00 510.30,108.00" fill="none" stroke="#111" stroke-width="0.9"/>
<line x1="356.7" y1="113.2" x2="356.7" y2="107.7" stroke="#222" stroke-width="0.9"/>
<line x1="354.45" y1="107.7" x2="358.95" y2="107.7" stroke="#222" stroke-width="0.9"/>
<line x1="356.7" y1="113.2" x2="356.7" y2="118.7" stroke="#222" stroke-width="0.9"/>
<line x1="354.45" y1="118.7" x2="358.95" y2="118.7" stroke="#222" stroke-width="0.9"/>
<line x1="366.3" y1="110.4" x2="366.3" y2="105.60000000000001" stroke="#222" stroke-width="0.9"/>
<line x1="364.05" y1="105.60000000000001" x2="368.55" y2="105.60000000000001" stroke="#222" stroke-width="0.9"/>
<line x1="366.3" y1="110.4" x2="366.3" y2="115.2" stroke="#222" stroke-width="0.9"/>
<line x1="364.05" y1="115.2" x2="368.55" y2="115.2" stroke="#222" stroke-width="0.9"/>
<line x1="375.9" y1="107.3" x2="375.9" y2="103.1" stroke="#222" stroke-width="0.9"/>
<line x1="373.65" y1="103.1" x2="378.15" y2="103.1" stroke="#222" stroke-width="0.9"/>
<line x1="375.9" y1="107.3" x2="375.9" y2="111.5" stroke="#222" stroke-width="0.9"/>
<line x1="373.65" y1="111.5" x2="378.15" y2="111.5" stroke="#222" stroke-width="0.9"/>
<line x1="404.7" y1="101.2" x2="404.7" y2="99.7" stroke="#222" stroke-width="0.9"/>
<line x1="402.45" y1="99.7" x2="406.95" y2="99.7" stroke="#222" stroke-width="0.9"/>
<line x1="404.7" y1="101.2" x2="404.7" y2="102.7" stroke="#222" stroke-width="0.9"/>
<line x1="402.45" y1="102.7" x2="406.95" y2="102.7" stroke="#222" stroke-width="0.9"/>
<line x1="414.3" y1="106" x2="414.3" y2="104" stroke="#222" stroke-width="0.9"/>
<line x1="412.05" y1="104" x2="416.55" y2="104" stroke="#222" stroke-width="0.9"/>
<line x1="414.3" y1="106" x2="414.3" y2="108" stroke="#222" stroke-width="0.9"/>
<line x1="412.05" y1="108" x2="416.55" y2="108" stroke="#222" stroke-width="0.9"/>
<line x1="423.9" y1="103.4" x2="423.9" y2="100.9" stroke="#222" stroke-width="0.9"/>
<line x1="421.65" y1="100.9" x2="426.15" y2="100.9" stroke="#222" stroke-width="0.9"/>
<line x1="423.9" y1="103.4" x2="423.9" y2="105.9" stroke="#222" stroke-width="0.9"/>
<line x1="421.65" y1="105.9" x2="426.15" y2="105.9" stroke="#222" stroke-width="0.9"/>
<line x1="433.5" y1="98.2" x2="433.5" y2="93.5" stroke="#222" stroke-width="0.9"/>
<line x1="431.25" y1="93.5" x2="435.75" y2="93.5" stroke="#222" stroke-width="0.9"/>
<line x1="433.5" y1="98.2" x2="433.5" y2="102.9" stroke="#222" stroke-width="0.9"/>
<line x1="431.25" y1="102.9" x2="435.75" y2="102.9" stroke="#222" stroke-width="0.9"/>
<line x1="443.1" y1="98.4" x2="443.1" y2="93.7" stroke="#222" stroke-width="0.9"/>
<line x1="440.85" y1="93.7" x2="445.35" y2="93.7" stroke="#222" stroke-width="0.9"/>
<line x1="443.1" y1="98.4" x2="443.1" y2="103.10000000000001" stroke="#222" stroke-width="0.9"/>
<line x1="440.85" y1="103.10000000000001" x2="445.35" y2="103.10000000000001" stroke="#222" stroke-width="0.9"/>
<line x1="471.9" y1="93.3" x2="471.9" y2="90.3" stroke="#222" stroke-width="0.9"/>
<line x1="469.65" y1="90.3" x2="474.15" y2="90.3" stroke="#222" stroke-width="0.9"/>
<line x1="471.9" y1="93.3" x2="471.9" y2="96.3" stroke="#222" stroke-width="0.9"/>
<line x1="469.65" y1="96.3" x2="474.15" y2="96.3" stroke="#222" stroke-width="0.9"/>
<line x1="491.1" y1="88.9" x2="491.1" y2="80.5" stroke="#222" stroke-width="0.9"/>
<line x1="488.85" y1="80.5" x2="493.35" y2="80.5" stroke="#222" stroke-width="0.9"/>
<line x1="491.1" y1="88.9" x2="491.1" y2="97.30000000000001" stroke="#222" stroke-width="0.9"/>
<line x1="488.85" y1="97.30000000000001" x2="493.35" y2="97.30000000000001" stroke="#222" stroke-width="0.9"/>
<line x1="510.29999999999995" y1="84.9" x2="510.29999999999995" y2="74.5" stroke="#222" stroke-width="0.9"/>
<line x1="508.04999999999995" y1="74.5" x2="512.55" y2="74.5" stroke="#222" stroke-width="0.9"/>
<line x1="510.29999999999995" y1="84.9" x2="510.29999999999995" y2="95.30000000000001" stroke="#222" stroke-width="0.9"/>
<line x1="508.04999999999995" y1="95.30000000000001" x2="512.55" y2="95.30000000000001" stroke="#222" stroke-width="0.9"/>
<line x1="347.1" y1="126.1" x2="347.1" y2="124.1" stroke="#222" stroke-width="0.9"/>
<line x1="344.85" y1="124.1" x2="349.35" y2="124.1" stroke="#222" stroke-width="0.9"/>
<line x1="347.1" y1="126.1" x2="347.1" y2="128.1" stroke="#222" stroke-width="0.9"/>
<line x1="344.85" y1="128.1" x2="349.35" y2="128.1" stroke="#222" stroke-width="0.9"/>
<line x1="356.7" y1="133.2" x2="356.7" y2="129.2" stroke="#222" stroke-width="0.9"/>
<line x1="354.45" y1="129.2" x2="358.95" y2="129.2" stroke="#222" stroke-width="0.9"/>
<line x1="356.7" y1="133.2" x2="356.7" y2="137.2" stroke="#222" stroke-width="0.9"/>
<line x1="354.45" y1="137.2" x2="358.95" y2="137.2" stroke="#222" stroke-width="0.9"/>
<line x1="366.3" y1="125.7" x2="366.3" y2="119.5" stroke="#222" stroke-width="0.9"/>
<line x1="364.05" y1="119.5" x2="368.55" y2="119.5" stroke="#222" stroke-width="0.9"/>
<line x1="366.3" y1="125.7" x2="366.3" y2="131.9" stroke="#222" stroke-width="0.9"/>
<line x1="364.05" y1="131.9" x2="368.55" y2="131.9" stroke="#222" stroke-width="0.9"/>
<line x1="375.9" y1="124.8" x2="375.9" y2="118.3" stroke="#222" stroke-width="0.9"/>
<line x1="373.65" y1="118.3" x2="378.15" y2="118.3" stroke="#222" stroke-width="0.9"/>
<line x1="375.9" y1="124.8" x2="375.9" y2="131.3" stroke="#222" stroke-width="0.9"/>
<line x1="373.65" y1="131.3" x2="378.15" y2="131.3" stroke="#222" stroke-width="0.9"/>
<line x1="404.7" y1="105.1" x2="404.7" y2="98.8" stroke="#222" stroke-width="0.9"/>
<line x1="402.45" y1="98.8" x2="406.95" y2="98.8" stroke="#222" stroke-width="0.9"/>
<line x1="404.7" y1="105.1" x2="404.7" y2="111.39999999999999" stroke="#222" stroke-width="0.9"/>
<line x1="402.45" y1="111.39999999999999" x2="406.95" y2="111.39999999999999" stroke="#222" stroke-width="0.9"/>
<line x1="414.3" y1="110.8" x2="414.3" y2="103.3" stroke="#222" stroke-width="0.9"/>
<line x1="412.05" y1="103.3" x2="416.55" y2="103.3" stroke="#222" stroke-width="0.9"/>
<line x1="414.3" y1="110.8" x2="414.3" y2="118.3" stroke="#222" stroke-width="0.9"/>
<line x1="412.05" y1="118.3" x2="416.55" y2="118.3" stroke="#222" stroke-width="0.9"/>
<line x1="423.9" y1="112.5" x2="423.9" y2="103.5" stroke="#222" stroke-width="0.9"/>
<line x1="421.65" y1="103.5" x2="426.15" y2="103.5" stroke="#222" stroke-width="0.9"/>
<line x1="423.9" y1="112.5" x2="423.9" y2="121.5" stroke="#222" stroke-width="0.9"/>
<line x1="421.65" y1="121.5" x2="426.15" y2="121.5" stroke="#222" stroke-width="0.9"/>
<line x1="433.5" y1="104.5" x2="433.5" y2="100.5" stroke="#222" stroke-width="0.9"/>
<line x1="431.25" y1="100.5" x2="435.75" y2="100.5" stroke="#222" stroke-width="0.9"/>
<line x1="433.5" y1="104.5" x2="433.5" y2="108.5" stroke="#222" stroke-width="0.9"/>
<line x1="431.25" y1="108.5" x2="435.75" y2="108.5" stroke="#222" stroke-width="0.9"/>
<line x1="443.1" y1="119.3" x2="443.1" y2="105.1" stroke="#222" stroke-width="0.9"/>
<line x1="440.85" y1="105.1" x2="445.35" y2="105.1" stroke="#222" stroke-width="0.9"/>
<line x1="443.1" y1="119.3" x2="443.1" y2="133.5" stroke="#222" stroke-width="0.9"/>
<line x1="440.85" y1="133.5" x2="445.35" y2="133.5" stroke="#222" stroke-width="0.9"/>
<line x1="471.9" y1="97.8" x2="471.9" y2="94.8" stroke="#222" stroke-width="0.9"/>
<line x1="469.65" y1="94.8" x2="474.15" y2="94.8" stroke="#222" stroke-width="0.9"/>
<line x1="471.9" y1="97.8" x2="471.9" y2="100.8" stroke="#222" stroke-width="0.9"/>
<line x1="469.65" y1="100.8" x2="474.15" y2="100.8" stroke="#222" stroke-width="0.9"/>
<line x1="491.1" y1="111.5" x2="491.1" y2="102.1" stroke="#222" stroke-width="0.9"/>
<line x1="488.85" y1="102.1" x2="493.35" y2="102.1" stroke="#222" stroke-width="0.9"/>
<line x1="491.1" y1="111.5" x2="491.1" y2="120.9" stroke="#222" stroke-width="0.9"/>
<line x1="488.85" y1="120.9" x2="493.35" y2="120.9" stroke="#222" stroke-width="0.9"/>
<line x1="510.29999999999995" y1="93.3" x2="510.29999999999995" y2="89.8" stroke="#222" stroke-width="0.9"/>
<line x1="508.04999999999995" y1="89.8" x2="512.55" y2="89.8" stroke="#222" stroke-width="0.9"/>
<line x1="510.29999999999995" y1="93.3" x2="510.29999999999995" y2="96.8" stroke="#222" stroke-width="0.9"/>
<line x1="508.04999999999995" y1="96.8" x2="512.55" y2="96.8" stroke="#222" stroke-width="0.9"/>
<line x1="347.1" y1="137.6" x2="347.1" y2="133.2" stroke="#222" stroke-width="0.9"/>
<line x1="344.85" y1="133.2" x2="349.35" y2="133.2" stroke="#222" stroke-width="0.9"/>
<line x1="347.1" y1="137.6" x2="347.1" y2="142.0" stroke="#222" stroke-width="0.9"/>
<line x1="344.85" y1="142.0" x2="349.35" y2="142.0" stroke="#222" stroke-width="0.9"/>
<line x1="356.7" y1="140.2" x2="356.7" y2="138.2" stroke="#222" stroke-width="0.9"/>
<line x1="354.45" y1="138.2" x2="358.95" y2="138.2" stroke="#222" stroke-width="0.9"/>
<line x1="356.7" y1="140.2" x2="356.7" y2="142.2" stroke="#222" stroke-width="0.9"/>
<line x1="354.45" y1="142.2" x2="358.95" y2="142.2" stroke="#222" stroke-width="0.9"/>
<line x1="366.3" y1="148.9" x2="366.3" y2="145.4" stroke="#222" stroke-width="0.9"/>
<line x1="364.05" y1="145.4" x2="368.55" y2="145.4" stroke="#222" stroke-width="0.9"/>
<line x1="366.3" y1="148.9" x2="366.3" y2="152.4" stroke="#222" stroke-width="0.9"/>
<line x1="364.05" y1="152.4" x2="368.55" y2="152.4" stroke="#222" stroke-width="0.9"/>
<line x1="375.9" y1="146.4" x2="375.9" y2="139.9" stroke="#222" stroke-width="0.9"/>
<line x1="373.65" y1="139.9" x2="378.15" y2="139.9" stroke="#222" stroke-width="0.9"/>
<line x1="375.9" y1="146.4" x2="375.9" y2="152.9" stroke="#222" stroke-width="0.9"/>
<line x1="373.65" y1="152.9" x2="378.15" y2="152.9" stroke="#222" stroke-width="0.9"/>
<line x1="404.7" y1="123.9" x2="404.7" y2="116.60000000000001" stroke="#222" stroke-width="0.9"/>
<line x1="402.45" y1="116.60000000000001" x2="406.95" y2="116.60000000000001" stroke="#222" stroke-width="0.9"/>
<line x1="404.7" y1="123.9" x2="404.7" y2="131.20000000000002" stroke="#222" stroke-width="0.9"/>
<line x1="402.45" y1="131.20000000000002" x2="406.95" y2="131.20000000000002" stroke="#222" stroke-width="0.9"/>
<line x1="414.3" y1="144.8" x2="414.3" y2="141.8" stroke="#222" stroke-width="0.9"/>
<line x1="412.05" y1="141.8" x2="416.55" y2="141.8" stroke="#222" stroke-width="0.9"/>
<line x1="414.3" y1="144.8" x2="414.3" y2="147.8" stroke="#222" stroke-width="0.9"/>
<line x1="412.05" y1="147.8" x2="416.55" y2="147.8" stroke="#222" stroke-width="0.9"/>
<line x1="423.9" y1="113.8" x2="423.9" y2="111.8" stroke="#222" stroke-width="0.9"/>
<line x1="421.65" y1="111.8" x2="426.15" y2="111.8" stroke="#222" stroke-width="0.9"/>
<line x1="423.9" y1="113.8" x2="423.9" y2="115.8" stroke="#222" stroke-width="0.9"/>
<line x1="421.65" y1="115.8" x2="426.15" y2="115.8" stroke="#222" stroke-width="0.9"/>
<line x1="433.5" y1="123.9" x2="433.5" y2="112.2" stroke="#222" stroke-width="0.9"/>
<line x1="431.25" y1="112.2" x2="435.75" y2="112.2" stroke="#222" stroke-width="0.9"/>
<line x1="433.5" y1="123.9" x2="433.5" y2="135.6" stroke="#222" stroke-width="0.9"/>
<line x1="431.25" y1="135.6" x2="435.75" y2="135.6" stroke="#222" stroke-width="0.9"/>
<line x1="443.1" y1="112.3" x2="443.1" y2="109.3" stroke="#222" stroke-width="0.9"/>
<line x1="440.85" y1="109.3" x2="445.35" y2="109.3" stroke="#222" stroke-width="0.9"/>
<line x1="443.1" y1="112.3" x2="443.1" y2="115.3" stroke="#222" stroke-width="0.9"/>
<line x1="440.85" y1="115.3" x2="445.35" y2="115.3" stroke="#222" stroke-width="0.9"/>
<line x1="471.9" y1="88.6" x2="471.9" y2="77.39999999999999" stroke="#222" stroke-width="0.9"/>
<line x1="469.65" y1="77.39999999999999" x2="474.15" y2="77.39999999999999" stroke="#222" stroke-width="0.9"/>
<line x1="471.9" y1="88.6" x2="471.9" y2="99.8" stroke="#222" stroke-width="0.9"/>
<line x1="469.65" y1="99.8" x2="474.15" y2="99.8" stroke="#222" stroke-width="0.9"/>
<line x1="491.1" y1="90.8" x2="491.1" y2="86.8" stroke="#222" stroke-width="0.9"/>
<line x1="488.85" y1="86.8" x2="493.35" y2="86.8" stroke="#222" stroke-width="0.9"/>
<line x1="491.1" y1="90.8" x2="491.1" y2="94.8" stroke="#222" stroke-width="0.9"/>
<line x1="488.85" y1="94.8" x2="493.35" y2="94.8" stroke="#222" stroke-width="0.9"/>
<line x1="510.29999999999995" y1="91.4" x2="510.29999999999995" y2="88.4" stroke="#222" stroke-width="0.9"/>
<line x1="508.04999999999995" y1="88.4" x2="512.55" y2="88.4" stroke="#222" stroke-width="0.9"/>
<line x1="510.29999999999995" y1="91.4" x2="510.29999999999995" y2="94.4" stroke="#222" stroke-width="0.9"/>
<line x1="508.04999999999995" y1="94.4" x2="512.55" y2="94.4" stroke="#222" stroke-width="0.9"/>
<line x1="347.1" y1="128.6" x2="347.1" y2="126.6" stroke="#222" stroke-width="0.9"/>
<line x1="344.85" y1="126.6" x2="349.35" y2="126.6" stroke="#222" stroke-width="0.9"/>
<line x1="347.1" y1="128.6" x2="347.1" y2="130.6" stroke="#222" stroke-width="0.9"/>
<line x1="344.85" y1="130.6" x2="349.35" y2="130.6" stroke="#222" stroke-width="0.9"/>
<line x1="356.7" y1="139.9" x2="356.7" y2="136.9" stroke="#222" stroke-width="0.9"/>
<line x1="354.45" y1="136.9" x2="358.95" y2="136.9" stroke="#222" stroke-width="0.9"/>
<line x1="356.7" y1="139.9" x2="356.7" y2="142.9" stroke="#222" stroke-width="0.9"/>
<line x1="354.45" y1="142.9" x2="358.95" y2="142.9" stroke="#222" stroke-width="0.9"/>
<line x1="366.3" y1="158.3" x2="366.3" y2="154.3" stroke="#222" stroke-width="0.9"/>
<line x1="364.05" y1="154.3" x2="368.55" y2="154.3" stroke="#222" stroke-width="0.9"/>
<line x1="366.3" y1="158.3" x2="366.3" y2="162.3" stroke="#222" stroke-width="0.9"/>
<line x1="364.05" y1="162.3" x2="368.55" y2="162.3" stroke="#222" stroke-width="0.9"/>
<line x1="375.9" y1="174" x2="375.9" y2="167.7" stroke="#222" stroke-width="0.9"/>
<line x1="373.65" y1="167.7" x2="378.15" y2="167.7" stroke="#222" stroke-width="0.9"/>
<line x1="375.9" y1="174" x2="375.9" y2="180.3" stroke="#222" stroke-width="0.9"/>
<line x1="373.65" y1="180.3" x2="378.15" y2="180.3" stroke="#222" stroke-width="0.9"/>
<line x1="404.7" y1="138.4" x2="404.7" y2="131.9" stroke="#222" stroke-width="0.9"/>
<line x1="402.45" y1="131.9" x2="406.95" y2="131.9" stroke="#222" stroke-width="0.9"/>
<line x1="404.7" y1="138.4" x2="404.7" y2="144.9" stroke="#222" stroke-width="0.9"/>
<line x1="402.45" y1="144.9" x2="406.95" y2="144.9" stroke="#222" stroke-width="0.9"/>
<line x1="414.3" y1="147.0" x2="414.3" y2="139.5" stroke="#222" stroke-width="0.9"/>
<line x1="412.05" y1="139.5" x2="416.55" y2="139.5" stroke="#222" stroke-width="0.9"/>
<line x1="414.3" y1="147.0" x2="414.3" y2="154.5" stroke="#222" stroke-width="0.9"/>
<line x1="412.05" y1="154.5" x2="416.55" y2="154.5" stroke="#222" stroke-width="0.9"/>
<line x1="423.9" y1="132.2" x2="423.9" y2="125.39999999999999" stroke="#222" stroke-width="0.9"/>
<line x1="421.65" y1="125.39999999999999" x2="426.15" y2="125.39999999999999" stroke="#222" stroke-width="0.9"/>
<line x1="423.9" y1="132.2" x2="423.9" y2="139.0" stroke="#222" stroke-width="0.9"/>
<line x1="421.65" y1="139.0" x2="426.15" y2="139.0" stroke="#222" stroke-width="0.9"/>
<line x1="433.5" y1="118.1" x2="433.5" y2="115.1" stroke="#222" stroke-width="0.9"/>
<line x1="431.25" y1="115.1" x2="435.75" y2="115.1" stroke="#222" stroke-width="0.9"/>
<line x1="433.5" y1="118.1" x2="433.5" y2="121.1" stroke="#222" stroke-width="0.9"/>
<line x1="431.25" y1="121.1" x2="435.75" y2="121.1" stroke="#222" stroke-width="0.9"/>
<line x1="443.1" y1="115.5" x2="443.1" y2="112.5" stroke="#222" stroke-width="0.9"/>
<line x1="440.85" y1="112.5" x2="445.35" y2="112.5" stroke="#222" stroke-width="0.9"/>
<line x1="443.1" y1="115.5" x2="443.1" y2="118.5" stroke="#222" stroke-width="0.9"/>
<line x1="440.85" y1="118.5" x2="445.35" y2="118.5" stroke="#222" stroke-width="0.9"/>
<line x1="471.9" y1="103.9" x2="471.9" y2="98.9" stroke="#222" stroke-width="0.9"/>
<line x1="469.65" y1="98.9" x2="474.15" y2="98.9" stroke="#222" stroke-width="0.9"/>
<line x1="471.9" y1="103.9" x2="471.9" y2="108.9" stroke="#222" stroke-width="0.9"/>
<line x1="469.65" y1="108.9" x2="474.15" y2="108.9" stroke="#222" stroke-width="0.9"/>
<line x1="491.1" y1="108" x2="491.1" y2="104" stroke="#222" stroke-width="0.9"/>
<line x1="488.85" y1="104" x2="493.35" y2="104" stroke="#222" stroke-width="0.9"/>
<line x1="491.1" y1="108" x2="491.1" y2="112" stroke="#222" stroke-width="0.9"/>
<line x1="488.85" y1="112" x2="493.35" y2="112" stroke="#222" stroke-width="0.9"/>
<line x1="510.29999999999995" y1="108" x2="510.29999999999995" y2="102.6" stroke="#222" stroke-width="0.9"/>
<line x1="508.04999999999995" y1="102.6" x2="512.55" y2="102.6" stroke="#222" stroke-width="0.9"/>
<line x1="510.29999999999995" y1="108" x2="510.29999999999995" y2="113.4" stroke="#222" stroke-width="0.9"/>
<line x1="508.04999999999995" y1="113.4" x2="512.55" y2="113.4" stroke="#222" stroke-width="0.9"/>
<circle cx="337.50" cy="114.80" r="3.20" fill="#000" stroke="#000" stroke-width="0.6"/>
<circle cx="347.10" cy="115.10" r="3.20" fill="#000" stroke="#000" stroke-width="0.6"/>
<circle cx="356.70" cy="113.20" r="3.20" fill="#000" stroke="#000" stroke-width="0.6"/>
<circle cx="366.30" cy="110.40" r="3.20" fill="#000" stroke="#000" stroke-width="0.6"/>
<circle cx="375.90" cy="107.30" r="3.20" fill="#000" stroke="#000" stroke-width="0.6"/>
<circle cx="404.70" cy="101.20" r="3.20" fill="#000" stroke="#000" stroke-width="0.6"/>
<circle cx="414.30" cy="106.00" r="3.20" fill="#000" stroke="#000" stroke-width="0.6"/>
<circle cx="423.90" cy="103.40" r="3.20" fill="#000" stroke="#000" stroke-width="0.6"/>
<circle cx="433.50" cy="98.20" r="3.20" fill="#000" stroke="#000" stroke-width="0.6"/>
<circle cx="443.10" cy="98.40" r="3.20" fill="#000" stroke="#000" stroke-width="0.6"/>
<circle cx="471.90" cy="93.30" r="3.20" fill="#000" stroke="#000" stroke-width="0.6"/>
<circle cx="491.10" cy="88.90" r="3.20" fill="#000" stroke="#000" stroke-width="0.6"/>
<circle cx="510.30" cy="84.90" r="3.20" fill="#000" stroke="#000" stroke-width="0.6"/>
<circle cx="337.50" cy="114.80" r="3.00" fill="#fff" stroke="#000" stroke-width="0.9"/>
<circle cx="347.10" cy="137.60" r="3.00" fill="#fff" stroke="#000" stroke-width="0.9"/>
<circle cx="356.70" cy="140.20" r="3.00" fill="#fff" stroke="#000" stroke-width="0.9"/>
<circle cx="366.30" cy="148.90" r="3.00" fill="#fff" stroke="#000" stroke-width="0.9"/>
<circle cx="375.90" cy="146.40" r="3.00" fill="#fff" stroke="#000" stroke-width="0.9"/>
<circle cx="404.70" cy="123.90" r="3.00" fill="#fff" stroke="#000" stroke-width="0.9"/>
<circle cx="414.30" cy="144.80" r="3.00" fill="#fff" stroke="#000" stroke-width="0.9"/>
<circle cx="423.90" cy="113.80" r="3.00" fill="#fff" stroke="#000" stroke-width="0.9"/>
<circle cx="433.50" cy="123.90" r="3.00" fill="#fff" stroke="#000" stroke-width="0.9"/>
<circle cx="443.10" cy="112.30" r="3.00" fill="#fff" stroke="#000" stroke-width="0.9"/>
<circle cx="471.90" cy="88.60" r="3.00" fill="#fff" stroke="#000" stroke-width="0.9"/>
<circle cx="491.10" cy="90.80" r="3.00" fill="#fff" stroke="#000" stroke-width="0.9"/>
<circle cx="510.30" cy="91.40" r="3.00" fill="#fff" stroke="#000" stroke-width="0.9"/>
<polygon points="337.50,111.38 340.50,117.08 334.50,117.08" fill="#fff" stroke="#000" stroke-width="0.9"/>
<polygon points="347.10,125.18 350.10,130.88 344.10,130.88" fill="#fff" stroke="#000" stroke-width="0.9"/>
<polygon points="356.70,136.48 359.70,142.18 353.70,142.18" fill="#fff" stroke="#000" stroke-width="0.9"/>
<polygon points="366.30,154.88 369.30,160.58 363.30,160.58" fill="#fff" stroke="#000" stroke-width="0.9"/>
<polygon points="375.90,170.58 378.90,176.28 372.90,176.28" fill="#fff" stroke="#000" stroke-width="0.9"/>
<polygon points="404.70,134.98 407.70,140.68 401.70,140.68" fill="#fff" stroke="#000" stroke-width="0.9"/>
<polygon points="414.30,143.58 417.30,149.28 411.30,149.28" fill="#fff" stroke="#000" stroke-width="0.9"/>
<polygon points="423.90,128.78 426.90,134.48 420.90,134.48" fill="#fff" stroke="#000" stroke-width="0.9"/>
<polygon points="433.50,114.68 436.50,120.38 430.50,120.38" fill="#fff" stroke="#000" stroke-width="0.9"/>
<polygon points="443.10,112.08 446.10,117.78 440.10,117.78" fill="#fff" stroke="#000" stroke-width="0.9"/>
<polygon points="471.90,100.48 474.90,106.18 468.90,106.18" fill="#fff" stroke="#000" stroke-width="0.9"/>
<polygon points="491.10,104.58 494.10,110.28 488.10,110.28" fill="#fff" stroke="#000" stroke-width="0.9"/>
<polygon points="510.30,104.58 513.30,110.28 507.30,110.28" fill="#fff" stroke="#000" stroke-width="0.9"/>
<rect x="334.80" y="112.10" width="5.40" height="5.40" fill="#fff" stroke="#000" stroke-width="0.9"/>
<rect x="344.40" y="123.40" width="5.40" height="5.40" fill="#fff" stroke="#000" stroke-width="0.9"/>
<rect x="354.00" y="130.50" width="5.40" height="5.40" fill="#fff" stroke="#000" stroke-width="0.9"/>
<rect x="363.60" y="123.00" width="5.40" height="5.40" fill="#fff" stroke="#000" stroke-width="0.9"/>
<rect x="373.20" y="122.10" width="5.40" height="5.40" fill="#fff" stroke="#000" stroke-width="0.9"/>
<rect x="402.00" y="102.40" width="5.40" height="5.40" fill="#fff" stroke="#000" stroke-width="0.9"/>
<rect x="411.60" y="108.10" width="5.40" height="5.40" fill="#fff" stroke="#000" stroke-width="0.9"/>
<rect x="421.20" y="109.80" width="5.40" height="5.40" fill="#fff" stroke="#000" stroke-width="0.9"/>
<rect x="430.80" y="101.80" width="5.40" height="5.40" fill="#fff" stroke="#000" stroke-width="0.9"/>
<rect x="440.40" y="116.60" width="5.40" height="5.40" fill="#fff" stroke="#000" stroke-width="0.9"/>
<rect x="469.20" y="95.10" width="5.40" height="5.40" fill="#fff" stroke="#000" stroke-width="0.9"/>
<rect x="488.40" y="108.80" width="5.40" height="5.40" fill="#fff" stroke="#000" stroke-width="0.9"/>
<rect x="507.60" y="90.60" width="5.40" height="5.40" fill="#fff" stroke="#000" stroke-width="0.9"/>
<rect x="334.80" y="112.10" width="5.40" height="5.40" fill="#fff" stroke="#000" stroke-width="0.9"/>
<text x="70.6" y="261.1" font-size="10.2" text-anchor="start" font-weight="normal" font-style="normal" font-family='"Liberation Sans", sans-serif' fill="#000" stroke="#000" stroke-width="0.1" textLength="11.3" lengthAdjust="spacingAndGlyphs">24</text>
<text x="86.0" y="261.1" font-size="10.2" text-anchor="start" font-weight="normal" font-style="normal" font-family='"Liberation Sans", sans-serif' fill="#000" stroke="#000" stroke-width="0.1" textLength="7.4" lengthAdjust="spacingAndGlyphs">H</text>
<text x="144.0" y="261.1" font-size="10.2" text-anchor="start" font-weight="normal" font-style="normal" font-family='"Liberation Sans", sans-serif' fill="#000" stroke="#000" stroke-width="0.1" textLength="11.8" lengthAdjust="spacingAndGlyphs">48</text>
<text x="158.6" y="261.1" font-size="10.2" text-anchor="start" font-weight="normal" font-style="normal" font-family='"Liberation Sans", sans-serif' fill="#000" stroke="#000" stroke-width="0.1" textLength="7.5" lengthAdjust="spacingAndGlyphs">H</text>
<line x1="46.3" y1="267.5" x2="115" y2="267.5" stroke="#2a2a2a" stroke-width="1.1"/>
<line x1="119.2" y1="267.5" x2="188.4" y2="267.5" stroke="#2a2a2a" stroke-width="1.1"/>
<text x="68.6" y="284.1" font-size="10.4" text-anchor="start" font-weight="normal" font-style="normal" font-family='"Liberation Sans", sans-serif' fill="#000" stroke="#000" stroke-width="0.1" textLength="15.9" lengthAdjust="spacingAndGlyphs">125</text>
<text x="88.2" y="284.1" font-size="10.4" text-anchor="start" font-weight="normal" font-style="normal" font-family='"Liberation Sans", sans-serif' fill="#000" stroke="#000" stroke-width="0.1" textLength="28.2" lengthAdjust="spacingAndGlyphs">mg/kg</text>
<text x="142.2" y="284.1" font-size="10.4" text-anchor="start" font-weight="normal" font-style="normal" font-family='"Liberation Sans", sans-serif' fill="#000" stroke="#000" stroke-width="0.1" textLength="15.9" lengthAdjust="spacingAndGlyphs">125</text>
<text x="161.8" y="284.1" font-size="10.4" text-anchor="start" font-weight="normal" font-style="normal" font-family='"Liberation Sans", sans-serif' fill="#000" stroke="#000" stroke-width="0.1" textLength="28.3" lengthAdjust="spacingAndGlyphs">mg/kg</text>
<text x="71.5" y="296.7" font-size="10.1" text-anchor="start" font-weight="normal" font-style="normal" font-family='"Liberation Sans", sans-serif' fill="#000" stroke="#000" stroke-width="0.1" textLength="41.2" lengthAdjust="spacingAndGlyphs">CBS9106</text>
<text x="145.1" y="296.7" font-size="10.1" text-anchor="start" font-weight="normal" font-style="normal" font-family='"Liberation Sans", sans-serif' fill="#000" stroke="#000" stroke-width="0.1" textLength="41.8" lengthAdjust="spacingAndGlyphs">CBS9106</text>
<line x1="69.6" y1="302.5" x2="114.8" y2="302.5" stroke="#2a2a2a" stroke-width="1.1"/>
<line x1="143.7" y1="302.5" x2="188.6" y2="302.5" stroke="#2a2a2a" stroke-width="1.1"/>
<text x="47.8" y="319.6" font-size="8.6" text-anchor="start" font-weight="normal" font-style="normal" font-family='"Liberation Sans", sans-serif' fill="#111" stroke="#111" stroke-width="0.15" textLength="16.2" lengthAdjust="spacingAndGlyphs">Gum</text>
<line x1="47.8" y1="320.8" x2="64" y2="320.8" stroke="#888" stroke-width="1.0"/>
<text x="71.9" y="319.6" font-size="8.6" text-anchor="start" font-weight="normal" font-style="normal" font-family='"Liberation Sans", sans-serif' fill="#111" stroke="#111" stroke-width="0.15" textLength="4.9" lengthAdjust="spacingAndGlyphs">A</text>
<line x1="68.6" y1="320.8" x2="77" y2="320.8" stroke="#888" stroke-width="1.0"/>
<text x="91.1" y="319.6" font-size="8.6" text-anchor="start" font-weight="normal" font-style="normal" font-family='"Liberation Sans", sans-serif' fill="#111" stroke="#111" stroke-width="0.15" textLength="4.3" lengthAdjust="spacingAndGlyphs">B</text>
<line x1="86.3" y1="320.8" x2="95.5" y2="320.8" stroke="#888" stroke-width="1.0"/>
<text x="108.8" y="319.6" font-size="8.6" text-anchor="start" font-weight="normal" font-style="normal" font-family='"Liberation Sans", sans-serif' fill="#111" stroke="#111" stroke-width="0.15" textLength="5.0" lengthAdjust="spacingAndGlyphs">C</text>
<line x1="104.8" y1="320.8" x2="114" y2="320.8" stroke="#888" stroke-width="1.0"/>
<text x="120.9" y="319.6" font-size="8.6" text-anchor="start" font-weight="normal" font-style="normal" font-family='"Liberation Sans", sans-serif' fill="#111" stroke="#111" stroke-width="0.15" textLength="15.9" lengthAdjust="spacingAndGlyphs">Gum</text>
<line x1="120.9" y1="320.8" x2="136.8" y2="320.8" stroke="#888" stroke-width="1.0"/>
<text x="145.2" y="319.6" font-size="8.6" text-anchor="start" font-weight="normal" font-style="normal" font-family='"Liberation Sans", sans-serif' fill="#111" stroke="#111" stroke-width="0.15" textLength="4.4" lengthAdjust="spacingAndGlyphs">A</text>
<line x1="142.2" y1="320.8" x2="149.8" y2="320.8" stroke="#888" stroke-width="1.0"/>
<text x="164.4" y="319.6" font-size="8.6" text-anchor="start" font-weight="normal" font-style="normal" font-family='"Liberation Sans", sans-serif' fill="#111" stroke="#111" stroke-width="0.15" textLength="4.0" lengthAdjust="spacingAndGlyphs">B</text>
<line x1="159.8" y1="320.8" x2="168.5" y2="320.8" stroke="#888" stroke-width="1.0"/>
<text x="182.3" y="319.6" font-size="8.6" text-anchor="start" font-weight="normal" font-style="normal" font-family='"Liberation Sans", sans-serif' fill="#111" stroke="#111" stroke-width="0.15" textLength="4.5" lengthAdjust="spacingAndGlyphs">C</text>
<line x1="177.5" y1="320.8" x2="187" y2="320.8" stroke="#888" stroke-width="1.0"/>
<linearGradient id="g1" x1="0" y1="0" x2="0" y2="1"><stop offset="0" stop-color="#dadada"/><stop offset="0.12" stop-color="#e6e6e6"/><stop offset="0.5" stop-color="#f0f0f0"/><stop offset="0.85" stop-color="#eeeeee"/><stop offset="1" stop-color="#f7f7f7"/></linearGradient>
<linearGradient id="g2" x1="0" y1="0" x2="0" y2="1"><stop offset="0" stop-color="#dcdcdc"/><stop offset="0.5" stop-color="#e4e4e4"/><stop offset="1" stop-color="#ebebeb"/></linearGradient>
<rect x="44.8" y="323.4" width="143.8" height="37.5" fill="url(#g1)" filter="url(#b3)"/>
<rect x="44.8" y="366.8" width="143.8" height="11.5" fill="#f3f3f3" filter="url(#b3)"/>
<rect x="44.8" y="381.8" width="143.8" height="17.3" fill="url(#g2)" filter="url(#b3)"/>
<rect x="44.8" y="401.4" width="143.8" height="14" fill="#ebebeb" filter="url(#b3)"/>
<polygon points="44.9,407.6 188.5,407.8 188.5,411.6 44.9,411.4" fill="#050505" fill-opacity="1" filter="url(#b1)"/>
<polygon points="45.7,408.3 187.7,408.5 187.7,410.9 45.7,410.7" fill="#050505" fill-opacity="0.85"/>
<polygon points="45.2,327.6 64.0,329.6 64.0,336.0 45.2,334.6" fill="#000" fill-opacity="1" filter="url(#b1)"/>
<polygon points="46.0,328.3 63.2,330.3 63.2,335.3 46.0,333.9" fill="#000" fill-opacity="0.85"/>
<polygon points="65.2,329.4 82.0,329.6 82.0,335.4 65.2,335.2" fill="#020202" fill-opacity="1" filter="url(#b1)"/>
<polygon points="66.0,330.1 81.2,330.3 81.2,334.7 66.0,334.5" fill="#020202" fill-opacity="0.85"/>
<polygon points="83.6,329.2 100.2,329.6 100.2,335.6 83.6,335.4" fill="#000" fill-opacity="1" filter="url(#b1)"/>
<polygon points="84.4,329.9 99.4,330.3 99.4,334.9 84.4,334.7" fill="#000" fill-opacity="0.85"/>
<polygon points="101.3,329.2 117.1,329.6 117.1,335.6 101.3,335.6" fill="#000" fill-opacity="1" filter="url(#b1)"/>
<polygon points="102.1,329.9 116.3,330.3 116.3,334.9 102.1,334.9" fill="#000" fill-opacity="0.85"/>
<polygon points="118.3,329.6 135.1,329.8 135.1,335.2 118.3,335.0" fill="#020202" fill-opacity="1" filter="url(#b1)"/>
<polygon points="119.1,330.3 134.3,330.5 134.3,334.5 119.1,334.3" fill="#020202" fill-opacity="0.85"/>
<polygon points="136.3,330.4 152.5,330.6 152.5,334.6 136.3,334.4" fill="#3a3a3a" fill-opacity="1" filter="url(#b1)"/>
<polygon points="137.1,331.1 151.7,331.3 151.7,333.9 137.1,333.7" fill="#3a3a3a" fill-opacity="0.85"/>
<polygon points="154.4,330.2 170.2,330.4 170.2,336.0 154.4,335.8" fill="#000" fill-opacity="1" filter="url(#b1)"/>
<polygon points="155.2,330.9 169.4,331.1 169.4,335.3 155.2,335.1" fill="#000" fill-opacity="0.85"/>
<polygon points="171.3,330.4 187.9,330.6 187.9,336.4 171.3,336.2" fill="#000" fill-opacity="1" filter="url(#b1)"/>
<polygon points="172.1,331.1 187.1,331.3 187.1,335.7 172.1,335.5" fill="#000" fill-opacity="0.85"/>
<polygon points="45.2,351.2 64.0,351.8 64.0,356.2 45.2,355.6" fill="#9c9c9c" fill-opacity="1" filter="url(#b1)"/>
<polygon points="46.0,351.9 63.2,352.5 63.2,355.5 46.0,354.9" fill="#9c9c9c" fill-opacity="0.85"/>
<polygon points="65.2,351.6 82.0,351.6 82.0,355.6 65.2,355.6" fill="#b4b4b4" fill-opacity="1" filter="url(#b1)"/>
<polygon points="66.0,352.3 81.2,352.3 81.2,354.9 66.0,354.9" fill="#b4b4b4" fill-opacity="0.85"/>
<polygon points="83.6,352.0 100.2,352.2 100.2,356.8 83.6,356.4" fill="#3a3a3a" fill-opacity="1" filter="url(#b1)"/>
<polygon points="84.4,352.7 99.4,352.9 99.4,356.1 84.4,355.7" fill="#3a3a3a" fill-opacity="0.85"/>
<polygon points="101.3,352.0 117.1,352.2 117.1,356.6 101.3,356.4" fill="#3e3e3e" fill-opacity="1" filter="url(#b1)"/>
<polygon points="102.1,352.7 116.3,352.9 116.3,355.9 102.1,355.7" fill="#3e3e3e" fill-opacity="0.85"/>
<polygon points="118.3,352.0 135.1,352.0 135.1,356.0 118.3,356.0" fill="#d0d0d0" fill-opacity="1" filter="url(#b1)"/>
<polygon points="119.1,352.7 134.3,352.7 134.3,355.3 119.1,355.3" fill="#d0d0d0" fill-opacity="0.85"/>
<polygon points="136.3,352.0 152.5,352.0 152.5,356.0 136.3,356.0" fill="#c8c8c8" fill-opacity="1" filter="url(#b1)"/>
<polygon points="137.1,352.7 151.7,352.7 151.7,355.3 137.1,355.3" fill="#c8c8c8" fill-opacity="0.85"/>
<polygon points="154.4,352.0 170.2,352.0 170.2,356.4 154.4,356.4" fill="#8a8a8a" fill-opacity="1" filter="url(#b1)"/>
<polygon points="155.2,352.7 169.4,352.7 169.4,355.7 155.2,355.7" fill="#8a8a8a" fill-opacity="0.85"/>
<polygon points="171.3,352.0 187.9,352.0 187.9,356.8 171.3,356.8" fill="#5a5a5a" fill-opacity="1" filter="url(#b1)"/>
<polygon points="172.1,352.7 187.1,352.7 187.1,356.1 172.1,356.1" fill="#5a5a5a" fill-opacity="0.85"/>
<polygon points="45.2,368.6 64.0,370.8 64.0,375.6 45.2,373.6" fill="#000" fill-opacity="1" filter="url(#b1)"/>
<polygon points="46.0,369.3 63.2,371.5 63.2,374.9 46.0,372.9" fill="#000" fill-opacity="0.85"/>
<polygon points="65.2,372.0 82.0,372.0 82.0,374.4 65.2,374.4" fill="#1a1a1a" fill-opacity="1" filter="url(#b1)"/>
<polygon points="66.0,372.7 81.2,372.7 81.2,373.7 66.0,373.7" fill="#1a1a1a" fill-opacity="0.85"/>
<polygon points="83.6,372.2 100.2,372.4 100.2,375.0 83.6,374.8" fill="#111" fill-opacity="1" filter="url(#b1)"/>
<polygon points="84.4,372.9 99.4,373.1 99.4,374.3 84.4,374.1" fill="#111" fill-opacity="0.85"/>
<polygon points="101.3,372.4 117.1,372.4 117.1,374.8 101.3,374.8" fill="#151515" fill-opacity="1" filter="url(#b1)"/>
<polygon points="102.1,373.1 116.3,373.1 116.3,374.1 102.1,374.1" fill="#151515" fill-opacity="0.85"/>
<polygon points="118.3,371.4 135.1,371.4 135.1,375.6 118.3,375.6" fill="#000" fill-opacity="1" filter="url(#b1)"/>
<polygon points="119.1,372.1 134.3,372.1 134.3,374.9 119.1,374.9" fill="#000" fill-opacity="0.85"/>
<polygon points="136.3,371.2 152.5,371.2 152.5,374.6 136.3,374.6" fill="#080808" fill-opacity="1" filter="url(#b1)"/>
<polygon points="137.1,371.9 151.7,371.9 151.7,373.9 137.1,373.9" fill="#080808" fill-opacity="0.85"/>
<polygon points="154.4,371.4 170.2,371.4 170.2,374.6 154.4,374.6" fill="#0a0a0a" fill-opacity="1" filter="url(#b1)"/>
<polygon points="155.2,372.1 169.4,372.1 169.4,373.9 155.2,373.9" fill="#0a0a0a" fill-opacity="0.85"/>
<polygon points="171.3,371.4 187.9,371.4 187.9,374.4 171.3,374.4" fill="#111" fill-opacity="1" filter="url(#b1)"/>
<polygon points="172.1,372.1 187.1,372.1 187.1,373.7 172.1,373.7" fill="#111" fill-opacity="0.85"/>
<polygon points="45.2,387.6 64.0,388.0 64.0,392.4 45.2,391.8" fill="#0a0a0a" fill-opacity="1" filter="url(#b1)"/>
<polygon points="46.0,388.3 63.2,388.7 63.2,391.7 46.0,391.1" fill="#0a0a0a" fill-opacity="0.85"/>
<polygon points="65.2,389.0 82.0,389.0 82.0,392.0 65.2,392.0" fill="#acacac" fill-opacity="1" filter="url(#b1)"/>
<polygon points="66.0,389.7 81.2,389.7 81.2,391.3 66.0,391.3" fill="#acacac" fill-opacity="0.85"/>
<polygon points="83.6,388.8 100.2,388.8 100.2,392.2 83.6,392.2" fill="#8a8a8a" fill-opacity="1" filter="url(#b1)"/>
<polygon points="84.4,389.5 99.4,389.5 99.4,391.5 84.4,391.5" fill="#8a8a8a" fill-opacity="0.85"/>
<polygon points="101.3,389.0 117.1,389.0 117.1,392.0 101.3,392.0" fill="#a2a2a2" fill-opacity="1" filter="url(#b1)"/>
<polygon points="102.1,389.7 116.3,389.7 116.3,391.3 102.1,391.3" fill="#a2a2a2" fill-opacity="0.85"/>
<polygon points="118.3,388.0 135.1,388.4 135.1,392.8 118.3,392.4" fill="#080808" fill-opacity="1" filter="url(#b1)"/>
<polygon points="119.1,388.7 134.3,389.1 134.3,392.1 119.1,391.7" fill="#080808" fill-opacity="0.85"/>
<polygon points="136.3,389.0 152.5,389.0 152.5,392.0 136.3,392.0" fill="#c6c6c6" fill-opacity="1" filter="url(#b1)"/>
<polygon points="137.1,389.7 151.7,389.7 151.7,391.3 137.1,391.3" fill="#c6c6c6" fill-opacity="0.85"/>
<polygon points="154.4,389.0 170.2,389.0 170.2,392.0 154.4,392.0" fill="#9a9a9a" fill-opacity="1" filter="url(#b1)"/>
<polygon points="155.2,389.7 169.4,389.7 169.4,391.3 155.2,391.3" fill="#9a9a9a" fill-opacity="0.85"/>
<polygon points="171.3,389.0 187.9,389.0 187.9,392.0 171.3,392.0" fill="#b8b8b8" fill-opacity="1" filter="url(#b1)"/>
<polygon points="172.1,389.7 187.1,389.7 187.1,391.3 172.1,391.3" fill="#b8b8b8" fill-opacity="0.85"/>
<rect x="64.0" y="323.6" width="1.2" height="37" fill="#f4f4f4" opacity="0.6" filter="url(#b3)"/>
<rect x="82.2" y="323.6" width="1.2" height="37" fill="#f4f4f4" opacity="0.6" filter="url(#b3)"/>
<rect x="100.2" y="323.6" width="1.2" height="37" fill="#f4f4f4" opacity="0.6" filter="url(#b3)"/>
<rect x="117.1" y="323.6" width="1.2" height="37" fill="#f4f4f4" opacity="0.6" filter="url(#b3)"/>
<rect x="135.1" y="323.6" width="1.2" height="37" fill="#f4f4f4" opacity="0.6" filter="url(#b3)"/>
<rect x="152.8" y="323.6" width="1.2" height="37" fill="#f4f4f4" opacity="0.6" filter="url(#b3)"/>
<rect x="170.2" y="323.6" width="1.2" height="37" fill="#f4f4f4" opacity="0.6" filter="url(#b3)"/>
<text x="193.9" y="335.8" font-size="10" text-anchor="start" font-weight="normal" font-style="normal" font-family='"Liberation Sans", sans-serif' fill="#000" stroke="#000" stroke-width="0.12" textLength="23.9" lengthAdjust="spacingAndGlyphs">PARP</text>
<text x="193.9" y="356.3" font-size="10" text-anchor="start" font-weight="normal" font-style="normal" font-family='"Liberation Sans", sans-serif' fill="#000" stroke="#000" stroke-width="0.12" textLength="63.4" lengthAdjust="spacingAndGlyphs">Cleaved-PARP</text>
<text x="193.9" y="377.6" font-size="10" text-anchor="start" font-weight="normal" font-style="normal" font-family='"Liberation Sans", sans-serif' fill="#000" stroke="#000" stroke-width="0.12" textLength="24.4" lengthAdjust="spacingAndGlyphs">CRM1</text>
<text x="193.9" y="394.9" font-size="10" text-anchor="start" font-weight="normal" font-style="normal" font-family='"Liberation Sans", sans-serif' fill="#000" stroke="#000" stroke-width="0.12" textLength="36.2" lengthAdjust="spacingAndGlyphs">Cyclin B</text>
<text x="193.9" y="410.2" font-size="10" text-anchor="start" font-weight="normal" font-style="normal" font-family='"Liberation Sans", sans-serif' fill="#000" stroke="#000" stroke-width="0.12" textLength="25.2" lengthAdjust="spacingAndGlyphs">Actin</text>
<line x1="49.4" y1="490.4" x2="49.4" y2="594.9" stroke="#aaa" stroke-width="1"/>
<line x1="49.4" y1="594.9" x2="259" y2="594.9" stroke="#aaa" stroke-width="1"/>
<line x1="47.199999999999996" y1="595.3" x2="49.4" y2="595.3" stroke="#aaa" stroke-width="0.8"/>
<text x="41.6" y="599.0999999999999" font-size="9.8" text-anchor="end" font-weight="bold" font-style="normal" font-family='"Liberation Serif", serif' fill="#000" stroke="#000" stroke-width="0.22">0</text>
<line x1="47.199999999999996" y1="577.8199999999999" x2="49.4" y2="577.8199999999999" stroke="#aaa" stroke-width="0.8"/>
<text x="41.6" y="581.6199999999999" font-size="9.8" text-anchor="end" font-weight="bold" font-style="normal" font-family='"Liberation Serif", serif' fill="#000" stroke="#000" stroke-width="0.22">20</text>
<line x1="47.199999999999996" y1="560.3399999999999" x2="49.4" y2="560.3399999999999" stroke="#aaa" stroke-width="0.8"/>
<text x="41.6" y="564.1399999999999" font-size="9.8" text-anchor="end" font-weight="bold" font-style="normal" font-family='"Liberation Serif", serif' fill="#000" stroke="#000" stroke-width="0.22">40</text>
<line x1="47.199999999999996" y1="542.8599999999999" x2="49.4" y2="542.8599999999999" stroke="#aaa" stroke-width="0.8"/>
<text x="41.6" y="546.6599999999999" font-size="9.8" text-anchor="end" font-weight="bold" font-style="normal" font-family='"Liberation Serif", serif' fill="#000" stroke="#000" stroke-width="0.22">60</text>
<line x1="47.199999999999996" y1="525.38" x2="49.4" y2="525.38" stroke="#aaa" stroke-width="0.8"/>
<text x="41.6" y="529.18" font-size="9.8" text-anchor="end" font-weight="bold" font-style="normal" font-family='"Liberation Serif", serif' fill="#000" stroke="#000" stroke-width="0.22">80</text>
<line x1="47.199999999999996" y1="507.9" x2="49.4" y2="507.9" stroke="#aaa" stroke-width="0.8"/>
<text x="41.6" y="511.7" font-size="9.8" text-anchor="end" font-weight="bold" font-style="normal" font-family='"Liberation Serif", serif' fill="#000" stroke="#000" stroke-width="0.22">100</text>
<line x1="47.199999999999996" y1="490.41999999999996" x2="49.4" y2="490.41999999999996" stroke="#aaa" stroke-width="0.8"/>
<text x="41.6" y="494.21999999999997" font-size="9.8" text-anchor="end" font-weight="bold" font-style="normal" font-family='"Liberation Serif", serif' fill="#000" stroke="#000" stroke-width="0.22">120</text>
<line x1="49.5" y1="594.9" x2="49.5" y2="592.6999999999999" stroke="#aaa" stroke-width="0.9"/>
<line x1="63.72" y1="594.9" x2="63.72" y2="592.6999999999999" stroke="#aaa" stroke-width="0.9"/>
<line x1="77.94" y1="594.9" x2="77.94" y2="592.6999999999999" stroke="#aaa" stroke-width="0.9"/>
<line x1="92.16" y1="594.9" x2="92.16" y2="592.6999999999999" stroke="#aaa" stroke-width="0.9"/>
<line x1="106.38" y1="594.9" x2="106.38" y2="592.6999999999999" stroke="#aaa" stroke-width="0.9"/>
<line x1="120.60000000000001" y1="594.9" x2="120.60000000000001" y2="592.6999999999999" stroke="#aaa" stroke-width="0.9"/>
<line x1="134.82" y1="594.9" x2="134.82" y2="592.6999999999999" stroke="#aaa" stroke-width="0.9"/>
<line x1="149.04000000000002" y1="594.9" x2="149.04000000000002" y2="592.6999999999999" stroke="#aaa" stroke-width="0.9"/>
<line x1="163.26" y1="594.9" x2="163.26" y2="592.6999999999999" stroke="#aaa" stroke-width="0.9"/>
<line x1="177.48000000000002" y1="594.9" x2="177.48000000000002" y2="592.6999999999999" stroke="#aaa" stroke-width="0.9"/>
<line x1="191.70000000000002" y1="594.9" x2="191.70000000000002" y2="592.6999999999999" stroke="#aaa" stroke-width="0.9"/>
<line x1="205.92000000000002" y1="594.9" x2="205.92000000000002" y2="592.6999999999999" stroke="#aaa" stroke-width="0.9"/>
<line x1="220.14000000000001" y1="594.9" x2="220.14000000000001" y2="592.6999999999999" stroke="#aaa" stroke-width="0.9"/>
<line x1="234.36" y1="594.9" x2="234.36" y2="592.6999999999999" stroke="#aaa" stroke-width="0.9"/>
<line x1="248.58" y1="594.9" x2="248.58" y2="592.6999999999999" stroke="#aaa" stroke-width="0.9"/>
<text x="49.8" y="614.6" font-size="9.8" text-anchor="middle" font-weight="bold" font-style="normal" font-family='"Liberation Serif", serif' fill="#000" stroke="#000" stroke-width="0.22">45</text>
<text x="106.7" y="614.6" font-size="9.8" text-anchor="middle" font-weight="bold" font-style="normal" font-family='"Liberation Serif", serif' fill="#000" stroke="#000" stroke-width="0.22">65</text>
<text x="163.60000000000002" y="614.6" font-size="9.8" text-anchor="middle" font-weight="bold" font-style="normal" font-family='"Liberation Serif", serif' fill="#000" stroke="#000" stroke-width="0.22">85</text>
<text x="220.50000000000003" y="614.6" font-size="9.8" text-anchor="middle" font-weight="bold" font-style="normal" font-family='"Liberation Serif", serif' fill="#000" stroke="#000" stroke-width="0.22">105</text>
<text transform="translate(16.4,593.0) rotate(-90)" font-size="10.2" font-weight="normal" font-family='"Liberation Sans", sans-serif' fill="#000" stroke="#000" stroke-width="0.2" textLength="36.4" lengthAdjust="spacingAndGlyphs">Survival</text>
<text transform="translate(16.4,553.5) rotate(-90)" font-size="10.2" font-weight="normal" font-family='"Liberation Sans", sans-serif' fill="#000" stroke="#000" stroke-width="0.2" textLength="15.6" lengthAdjust="spacingAndGlyphs">rate</text>
<text transform="translate(16.799999999999997,534.9) rotate(-90)" font-size="11.424" font-weight="normal" font-family='"Liberation Sans", sans-serif' fill="#000" stroke="#000" stroke-width="0.05" textLength="20.7" lengthAdjust="spacingAndGlyphs">(%)</text>
<text x="104.5" y="632.5" font-size="10" text-anchor="start" font-weight="normal" font-style="normal" font-family='"Liberation Sans", sans-serif' fill="#000" stroke="#000" stroke-width="0.1" textLength="60" lengthAdjust="spacingAndGlyphs">Survival days</text>
<polyline points="49.50,507.90 58.20,507.90 58.20,516.64 103.60,516.64 103.60,534.12 108.50,534.12 108.50,542.86 117.70,542.86 117.70,551.60 120.50,551.60 120.50,560.34 188.90,560.34 188.90,569.08 191.60,569.08 191.60,577.82 223.00,577.82 223.00,586.56 231.40,586.56 231.40,595.30" fill="none" stroke="#000" stroke-width="1.9" stroke-linejoin="miter" stroke-linecap="butt"/>
<polyline points="49.50,507.90 160.60,507.90 160.60,516.64 194.00,516.64 194.00,525.38 196.90,525.38 196.90,534.12 208.40,534.12 208.40,542.86 256.00,542.86" fill="none" stroke="#000" stroke-width="1.9" stroke-dasharray="3.6 5.5" stroke-dashoffset="-0.5" stroke-linecap="butt"/>
<line x1="343.7" y1="473.5" x2="343.7" y2="595.2" stroke="#000" stroke-width="1.3"/>
<line x1="343.7" y1="595.2" x2="481.7" y2="595.2" stroke="#000" stroke-width="1.5"/>
<line x1="343.7" y1="473.5" x2="347.3" y2="473.5" stroke="#000" stroke-width="1.2"/>
<text x="334.2" y="477.1" font-size="8.2" text-anchor="end" font-weight="bold" font-style="normal" font-family='"Liberation Serif", serif' fill="#000" stroke="#000" stroke-width="0.22" textLength="19.2" lengthAdjust="spacingAndGlyphs">110.0</text>
<line x1="343.7" y1="503.92" x2="347.3" y2="503.92" stroke="#000" stroke-width="1.2"/>
<text x="334.2" y="507.52000000000004" font-size="8.2" text-anchor="end" font-weight="bold" font-style="normal" font-family='"Liberation Serif", serif' fill="#000" stroke="#000" stroke-width="0.22" textLength="19.2" lengthAdjust="spacingAndGlyphs">105.0</text>
<line x1="343.7" y1="534.34" x2="347.3" y2="534.34" stroke="#000" stroke-width="1.2"/>
<text x="334.2" y="537.94" font-size="8.2" text-anchor="end" font-weight="bold" font-style="normal" font-family='"Liberation Serif", serif' fill="#000" stroke="#000" stroke-width="0.22" textLength="19.2" lengthAdjust="spacingAndGlyphs">100.0</text>
<line x1="343.7" y1="564.76" x2="347.3" y2="564.76" stroke="#000" stroke-width="1.2"/>
<text x="334.2" y="568.36" font-size="8.2" text-anchor="end" font-weight="bold" font-style="normal" font-family='"Liberation Serif", serif' fill="#000" stroke="#000" stroke-width="0.22" textLength="15" lengthAdjust="spacingAndGlyphs">95.0</text>
<text x="334.2" y="598.7800000000001" font-size="8.2" text-anchor="end" font-weight="bold" font-style="normal" font-family='"Liberation Serif", serif' fill="#000" stroke="#000" stroke-width="0.22" textLength="15" lengthAdjust="spacingAndGlyphs">90.0</text>
<line x1="356.55" y1="595.2" x2="356.55" y2="592.2" stroke="#000" stroke-width="1.1"/>
<line x1="369.4" y1="595.2" x2="369.4" y2="592.2" stroke="#000" stroke-width="1.1"/>
<line x1="382.25" y1="595.2" x2="382.25" y2="592.2" stroke="#000" stroke-width="1.1"/>
<line x1="395.09999999999997" y1="595.2" x2="395.09999999999997" y2="592.2" stroke="#000" stroke-width="1.1"/>
<line x1="407.95" y1="595.2" x2="407.95" y2="592.2" stroke="#000" stroke-width="1.1"/>
<line x1="420.79999999999995" y1="595.2" x2="420.79999999999995" y2="592.2" stroke="#000" stroke-width="1.1"/>
<line x1="433.65" y1="595.2" x2="433.65" y2="592.2" stroke="#000" stroke-width="1.1"/>
<line x1="446.5" y1="595.2" x2="446.5" y2="592.2" stroke="#000" stroke-width="1.1"/>
<line x1="459.34999999999997" y1="595.2" x2="459.34999999999997" y2="592.2" stroke="#000" stroke-width="1.1"/>
<line x1="472.2" y1="595.2" x2="472.2" y2="592.2" stroke="#000" stroke-width="1.1"/>
<text x="346.2" y="617" font-size="8" text-anchor="middle" font-weight="bold" font-style="normal" font-family='"Liberation Serif", serif' fill="#000" stroke="#000" stroke-width="0.22">0</text>
<text x="359.05" y="617" font-size="8" text-anchor="middle" font-weight="bold" font-style="normal" font-family='"Liberation Serif", serif' fill="#000" stroke="#000" stroke-width="0.22">3</text>
<text x="371.9" y="617" font-size="8" text-anchor="middle" font-weight="bold" font-style="normal" font-family='"Liberation Serif", serif' fill="#000" stroke="#000" stroke-width="0.22">6</text>
<text x="384.75" y="617" font-size="8" text-anchor="middle" font-weight="bold" font-style="normal" font-family='"Liberation Serif", serif' fill="#000" stroke="#000" stroke-width="0.22">9</text>
<text x="397.59999999999997" y="617" font-size="8" text-anchor="middle" font-weight="bold" font-style="normal" font-family='"Liberation Serif", serif' fill="#000" stroke="#000" stroke-width="0.22">12</text>
<text x="410.45" y="617" font-size="8" text-anchor="middle" font-weight="bold" font-style="normal" font-family='"Liberation Serif", serif' fill="#000" stroke="#000" stroke-width="0.22">15</text>
<text x="423.29999999999995" y="617" font-size="8" text-anchor="middle" font-weight="bold" font-style="normal" font-family='"Liberation Serif", serif' fill="#000" stroke="#000" stroke-width="0.22">18</text>
<text x="436.15" y="617" font-size="8" text-anchor="middle" font-weight="bold" font-style="normal" font-family='"Liberation Serif", serif' fill="#000" stroke="#000" stroke-width="0.22">21</text>
<text x="449.0" y="617" font-size="8" text-anchor="middle" font-weight="bold" font-style="normal" font-family='"Liberation Serif", serif' fill="#000" stroke="#000" stroke-width="0.22">24</text>
<text x="461.84999999999997" y="617" font-size="8" text-anchor="middle" font-weight="bold" font-style="normal" font-family='"Liberation Serif", serif' fill="#000" stroke="#000" stroke-width="0.22">27</text>
<text x="474.7" y="617" font-size="8" text-anchor="middle" font-weight="bold" font-style="normal" font-family='"Liberation Serif", serif' fill="#000" stroke="#000" stroke-width="0.22">30</text>
<text transform="translate(303.8,592.0) rotate(-90)" font-size="10.0" font-weight="normal" font-family='"Liberation Sans", sans-serif' fill="#000" stroke="#000" stroke-width="0.22" textLength="36.2" lengthAdjust="spacingAndGlyphs">Relative</text>
<text transform="translate(303.8,552.7) rotate(-90)" font-size="10.0" font-weight="normal" font-family='"Liberation Sans", sans-serif' fill="#000" stroke="#000" stroke-width="0.22" textLength="17.7" lengthAdjust="spacingAndGlyphs">body</text>
<text transform="translate(303.8,532.2) rotate(-90)" font-size="10.0" font-weight="normal" font-family='"Liberation Sans", sans-serif' fill="#000" stroke="#000" stroke-width="0.22" textLength="27.4" lengthAdjust="spacingAndGlyphs">weight</text>
<text transform="translate(304.2,500.6) rotate(-90)" font-size="11.200000000000001" font-weight="normal" font-family='"Liberation Sans", sans-serif' fill="#000" stroke="#000" stroke-width="0.05" textLength="22.3" lengthAdjust="spacingAndGlyphs">(%)</text>
<text x="346.9" y="631.8" font-size="10.6" text-anchor="start" font-weight="normal" font-style="normal" font-family='"Liberation Sans", sans-serif' fill="#000" stroke="#000" stroke-width="0.3" textLength="21.35" lengthAdjust="spacing">Days</text>
<text x="371.62" y="631.8" font-size="10.6" text-anchor="start" font-weight="normal" font-style="normal" font-family='"Liberation Sans", sans-serif' fill="#000" stroke="#000" stroke-width="0.3" textLength="24.72" lengthAdjust="spacing">after</text>
<text x="401.01" y="631.8" font-size="10.6" text-anchor="start" font-weight="normal" font-style="normal" font-family='"Liberation Sans", sans-serif' fill="#000" stroke="#000" stroke-width="0.3" textLength="21.74" lengthAdjust="spacing">first</text>
<text x="426.13" y="631.8" font-size="10.6" text-anchor="start" font-weight="normal" font-style="normal" font-family='"Liberation Sans", sans-serif' fill="#000" stroke="#000" stroke-width="0.3" textLength="46.97" lengthAdjust="spacing">treatment</text>
<polyline points="345.40,537.30 350.60,534.00 358.70,539.80 367.50,534.40 379.40,536.00 388.00,530.80 396.70,537.00 409.50,537.00 418.20,533.70 427.20,533.10 439.90,538.40 448.50,535.00 456.50,543.30 469.60,541.30 478.30,544.60" fill="none" stroke="#000" stroke-width="0.9"/>
<polyline points="345.40,537.30 350.60,534.00 358.70,553.30 367.50,555.20 379.40,546.70 388.00,535.10 396.70,535.40 409.50,532.60 418.20,524.00 427.20,526.60 439.90,527.70 448.50,526.50 456.50,530.40 469.60,522.10 478.30,523.70" fill="none" stroke="#000" stroke-width="0.9"/>
<line x1="388" y1="530.8" x2="388" y2="525.3" stroke="#111" stroke-width="0.9"/>
<line x1="385.6" y1="525.3" x2="390.4" y2="525.3" stroke="#111" stroke-width="0.9"/>
<line x1="388" y1="530.8" x2="388" y2="536.3" stroke="#111" stroke-width="0.9"/>
<line x1="385.6" y1="536.3" x2="390.4" y2="536.3" stroke="#111" stroke-width="0.9"/>
<line x1="396.7" y1="537" x2="396.7" y2="534.5" stroke="#111" stroke-width="0.9"/>
<line x1="394.3" y1="534.5" x2="399.09999999999997" y2="534.5" stroke="#111" stroke-width="0.9"/>
<line x1="396.7" y1="537" x2="396.7" y2="539.5" stroke="#111" stroke-width="0.9"/>
<line x1="394.3" y1="539.5" x2="399.09999999999997" y2="539.5" stroke="#111" stroke-width="0.9"/>
<line x1="409.5" y1="537" x2="409.5" y2="533.8" stroke="#111" stroke-width="0.9"/>
<line x1="407.1" y1="533.8" x2="411.9" y2="533.8" stroke="#111" stroke-width="0.9"/>
<line x1="409.5" y1="537" x2="409.5" y2="540.2" stroke="#111" stroke-width="0.9"/>
<line x1="407.1" y1="540.2" x2="411.9" y2="540.2" stroke="#111" stroke-width="0.9"/>
<line x1="418.2" y1="533.7" x2="418.2" y2="527.2" stroke="#111" stroke-width="0.9"/>
<line x1="415.8" y1="527.2" x2="420.59999999999997" y2="527.2" stroke="#111" stroke-width="0.9"/>
<line x1="418.2" y1="533.7" x2="418.2" y2="540.2" stroke="#111" stroke-width="0.9"/>
<line x1="415.8" y1="540.2" x2="420.59999999999997" y2="540.2" stroke="#111" stroke-width="0.9"/>
<line x1="427.2" y1="533.1" x2="427.2" y2="525.3000000000001" stroke="#111" stroke-width="0.9"/>
<line x1="424.8" y1="525.3000000000001" x2="429.59999999999997" y2="525.3000000000001" stroke="#111" stroke-width="0.9"/>
<line x1="427.2" y1="533.1" x2="427.2" y2="540.9" stroke="#111" stroke-width="0.9"/>
<line x1="424.8" y1="540.9" x2="429.59999999999997" y2="540.9" stroke="#111" stroke-width="0.9"/>
<line x1="439.9" y1="538.4" x2="439.9" y2="531.6999999999999" stroke="#111" stroke-width="0.9"/>
<line x1="437.5" y1="531.6999999999999" x2="442.29999999999995" y2="531.6999999999999" stroke="#111" stroke-width="0.9"/>
<line x1="439.9" y1="538.4" x2="439.9" y2="545.1" stroke="#111" stroke-width="0.9"/>
<line x1="437.5" y1="545.1" x2="442.29999999999995" y2="545.1" stroke="#111" stroke-width="0.9"/>
<line x1="448.5" y1="535" x2="448.5" y2="526.7" stroke="#111" stroke-width="0.9"/>
<line x1="446.1" y1="526.7" x2="450.9" y2="526.7" stroke="#111" stroke-width="0.9"/>
<line x1="448.5" y1="535" x2="448.5" y2="543.3" stroke="#111" stroke-width="0.9"/>
<line x1="446.1" y1="543.3" x2="450.9" y2="543.3" stroke="#111" stroke-width="0.9"/>
<line x1="456.5" y1="543.3" x2="456.5" y2="534.5999999999999" stroke="#111" stroke-width="0.9"/>
<line x1="454.1" y1="534.5999999999999" x2="458.9" y2="534.5999999999999" stroke="#111" stroke-width="0.9"/>
<line x1="456.5" y1="543.3" x2="456.5" y2="552.0" stroke="#111" stroke-width="0.9"/>
<line x1="454.1" y1="552.0" x2="458.9" y2="552.0" stroke="#111" stroke-width="0.9"/>
<line x1="469.6" y1="541.3" x2="469.6" y2="532.1999999999999" stroke="#111" stroke-width="0.9"/>
<line x1="467.20000000000005" y1="532.1999999999999" x2="472.0" y2="532.1999999999999" stroke="#111" stroke-width="0.9"/>
<line x1="469.6" y1="541.3" x2="469.6" y2="550.4" stroke="#111" stroke-width="0.9"/>
<line x1="467.20000000000005" y1="550.4" x2="472.0" y2="550.4" stroke="#111" stroke-width="0.9"/>
<line x1="478.3" y1="544.6" x2="478.3" y2="533.8000000000001" stroke="#111" stroke-width="0.9"/>
<line x1="475.90000000000003" y1="533.8000000000001" x2="480.7" y2="533.8000000000001" stroke="#111" stroke-width="0.9"/>
<line x1="478.3" y1="544.6" x2="478.3" y2="555.4" stroke="#111" stroke-width="0.9"/>
<line x1="475.90000000000003" y1="555.4" x2="480.7" y2="555.4" stroke="#111" stroke-width="0.9"/>
<line x1="358.7" y1="553.3" x2="358.7" y2="548.6999999999999" stroke="#111" stroke-width="0.9"/>
<line x1="356.3" y1="548.6999999999999" x2="361.09999999999997" y2="548.6999999999999" stroke="#111" stroke-width="0.9"/>
<line x1="358.7" y1="553.3" x2="358.7" y2="557.9" stroke="#111" stroke-width="0.9"/>
<line x1="356.3" y1="557.9" x2="361.09999999999997" y2="557.9" stroke="#111" stroke-width="0.9"/>
<line x1="367.5" y1="555.2" x2="367.5" y2="548.4000000000001" stroke="#111" stroke-width="0.9"/>
<line x1="365.1" y1="548.4000000000001" x2="369.9" y2="548.4000000000001" stroke="#111" stroke-width="0.9"/>
<line x1="367.5" y1="555.2" x2="367.5" y2="562.0" stroke="#111" stroke-width="0.9"/>
<line x1="365.1" y1="562.0" x2="369.9" y2="562.0" stroke="#111" stroke-width="0.9"/>
<line x1="379.4" y1="546.7" x2="379.4" y2="540.1" stroke="#111" stroke-width="0.9"/>
<line x1="377.0" y1="540.1" x2="381.79999999999995" y2="540.1" stroke="#111" stroke-width="0.9"/>
<line x1="379.4" y1="546.7" x2="379.4" y2="553.3000000000001" stroke="#111" stroke-width="0.9"/>
<line x1="377.0" y1="553.3000000000001" x2="381.79999999999995" y2="553.3000000000001" stroke="#111" stroke-width="0.9"/>
<line x1="409.5" y1="532.6" x2="409.5" y2="525.6" stroke="#111" stroke-width="0.9"/>
<line x1="407.1" y1="525.6" x2="411.9" y2="525.6" stroke="#111" stroke-width="0.9"/>
<line x1="409.5" y1="532.6" x2="409.5" y2="539.6" stroke="#111" stroke-width="0.9"/>
<line x1="407.1" y1="539.6" x2="411.9" y2="539.6" stroke="#111" stroke-width="0.9"/>
<line x1="418.2" y1="524" x2="418.2" y2="518.6" stroke="#111" stroke-width="0.9"/>
<line x1="415.8" y1="518.6" x2="420.59999999999997" y2="518.6" stroke="#111" stroke-width="0.9"/>
<line x1="418.2" y1="524" x2="418.2" y2="529.4" stroke="#111" stroke-width="0.9"/>
<line x1="415.8" y1="529.4" x2="420.59999999999997" y2="529.4" stroke="#111" stroke-width="0.9"/>
<line x1="427.2" y1="526.6" x2="427.2" y2="521.3000000000001" stroke="#111" stroke-width="0.9"/>
<line x1="424.8" y1="521.3000000000001" x2="429.59999999999997" y2="521.3000000000001" stroke="#111" stroke-width="0.9"/>
<line x1="427.2" y1="526.6" x2="427.2" y2="531.9" stroke="#111" stroke-width="0.9"/>
<line x1="424.8" y1="531.9" x2="429.59999999999997" y2="531.9" stroke="#111" stroke-width="0.9"/>
<line x1="439.9" y1="527.7" x2="439.9" y2="524.7" stroke="#111" stroke-width="0.9"/>
<line x1="437.5" y1="524.7" x2="442.29999999999995" y2="524.7" stroke="#111" stroke-width="0.9"/>
<line x1="439.9" y1="527.7" x2="439.9" y2="530.7" stroke="#111" stroke-width="0.9"/>
<line x1="437.5" y1="530.7" x2="442.29999999999995" y2="530.7" stroke="#111" stroke-width="0.9"/>
<line x1="448.5" y1="526.5" x2="448.5" y2="520.2" stroke="#111" stroke-width="0.9"/>
<line x1="446.1" y1="520.2" x2="450.9" y2="520.2" stroke="#111" stroke-width="0.9"/>
<line x1="448.5" y1="526.5" x2="448.5" y2="532.8" stroke="#111" stroke-width="0.9"/>
<line x1="446.1" y1="532.8" x2="450.9" y2="532.8" stroke="#111" stroke-width="0.9"/>
<line x1="456.5" y1="530.4" x2="456.5" y2="524.6" stroke="#111" stroke-width="0.9"/>
<line x1="454.1" y1="524.6" x2="458.9" y2="524.6" stroke="#111" stroke-width="0.9"/>
<line x1="456.5" y1="530.4" x2="456.5" y2="536.1999999999999" stroke="#111" stroke-width="0.9"/>
<line x1="454.1" y1="536.1999999999999" x2="458.9" y2="536.1999999999999" stroke="#111" stroke-width="0.9"/>
<line x1="469.6" y1="522.1" x2="469.6" y2="516.3000000000001" stroke="#111" stroke-width="0.9"/>
<line x1="467.20000000000005" y1="516.3000000000001" x2="472.0" y2="516.3000000000001" stroke="#111" stroke-width="0.9"/>
<line x1="469.6" y1="522.1" x2="469.6" y2="527.9" stroke="#111" stroke-width="0.9"/>
<line x1="467.20000000000005" y1="527.9" x2="472.0" y2="527.9" stroke="#111" stroke-width="0.9"/>
<line x1="478.3" y1="523.7" x2="478.3" y2="517.7" stroke="#111" stroke-width="0.9"/>
<line x1="475.90000000000003" y1="517.7" x2="480.7" y2="517.7" stroke="#111" stroke-width="0.9"/>
<line x1="478.3" y1="523.7" x2="478.3" y2="529.7" stroke="#111" stroke-width="0.9"/>
<line x1="475.90000000000003" y1="529.7" x2="480.7" y2="529.7" stroke="#111" stroke-width="0.9"/>
<circle cx="345.40" cy="537.30" r="3.40" fill="#000" stroke="#000" stroke-width="0.5"/>
<circle cx="350.60" cy="534.00" r="3.40" fill="#000" stroke="#000" stroke-width="0.5"/>
<circle cx="358.70" cy="539.80" r="3.40" fill="#000" stroke="#000" stroke-width="0.5"/>
<circle cx="367.50" cy="534.40" r="3.40" fill="#000" stroke="#000" stroke-width="0.5"/>
<circle cx="379.40" cy="536.00" r="3.40" fill="#000" stroke="#000" stroke-width="0.5"/>
<circle cx="388.00" cy="530.80" r="3.40" fill="#000" stroke="#000" stroke-width="0.5"/>
<circle cx="396.70" cy="537.00" r="3.40" fill="#000" stroke="#000" stroke-width="0.5"/>
<circle cx="409.50" cy="537.00" r="3.40" fill="#000" stroke="#000" stroke-width="0.5"/>
<circle cx="418.20" cy="533.70" r="3.40" fill="#000" stroke="#000" stroke-width="0.5"/>
<circle cx="427.20" cy="533.10" r="3.40" fill="#000" stroke="#000" stroke-width="0.5"/>
<circle cx="439.90" cy="538.40" r="3.40" fill="#000" stroke="#000" stroke-width="0.5"/>
<circle cx="448.50" cy="535.00" r="3.40" fill="#000" stroke="#000" stroke-width="0.5"/>
<circle cx="456.50" cy="543.30" r="3.40" fill="#000" stroke="#000" stroke-width="0.5"/>
<circle cx="469.60" cy="541.30" r="3.40" fill="#000" stroke="#000" stroke-width="0.5"/>
<circle cx="478.30" cy="544.60" r="3.40" fill="#000" stroke="#000" stroke-width="0.5"/>
<circle cx="345.40" cy="537.30" r="3.40" fill="#fff" stroke="#000" stroke-width="1.0"/>
<circle cx="350.60" cy="534.00" r="3.40" fill="#fff" stroke="#000" stroke-width="1.0"/>
<circle cx="358.70" cy="553.30" r="3.40" fill="#fff" stroke="#000" stroke-width="1.0"/>
<circle cx="367.50" cy="555.20" r="3.40" fill="#fff" stroke="#000" stroke-width="1.0"/>
<circle cx="379.40" cy="546.70" r="3.40" fill="#fff" stroke="#000" stroke-width="1.0"/>
<circle cx="388.00" cy="535.10" r="3.40" fill="#fff" stroke="#000" stroke-width="1.0"/>
<circle cx="396.70" cy="535.40" r="3.40" fill="#fff" stroke="#000" stroke-width="1.0"/>
<circle cx="409.50" cy="532.60" r="3.40" fill="#fff" stroke="#000" stroke-width="1.0"/>
<circle cx="418.20" cy="524.00" r="3.40" fill="#fff" stroke="#000" stroke-width="1.0"/>
<circle cx="427.20" cy="526.60" r="3.40" fill="#fff" stroke="#000" stroke-width="1.0"/>
<circle cx="439.90" cy="527.70" r="3.40" fill="#fff" stroke="#000" stroke-width="1.0"/>
<circle cx="448.50" cy="526.50" r="3.40" fill="#fff" stroke="#000" stroke-width="1.0"/>
<circle cx="456.50" cy="530.40" r="3.40" fill="#fff" stroke="#000" stroke-width="1.0"/>
<circle cx="469.60" cy="522.10" r="3.40" fill="#fff" stroke="#000" stroke-width="1.0"/>
<circle cx="478.30" cy="523.70" r="3.40" fill="#fff" stroke="#000" stroke-width="1.0"/>
<circle cx="262.7" cy="542.3" r="0.8" fill="#222"/>
<line x1="257" y1="593.3" x2="262.5" y2="593.3" stroke="#ccc" stroke-width="0.8"/>
</g>
</svg></body></html>
